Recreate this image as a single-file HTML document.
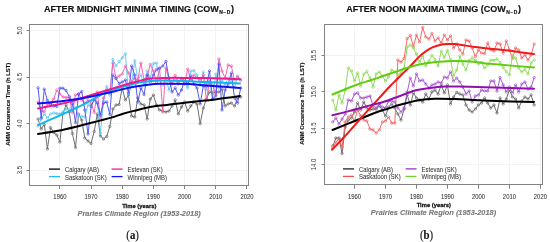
<!DOCTYPE html>
<html><head><meta charset="utf-8"><style>
html,body{margin:0;padding:0;background:#fff;}
svg{display:block;will-change:transform;}
</style></head><body>
<svg width="550" height="242" viewBox="0 0 550 242">
<rect width="550" height="242" fill="#fff"/>
<line x1="59.5" y1="24.5" x2="59.5" y2="185.5" stroke="#f2f2f2" stroke-width="1"/>
<line x1="91.5" y1="24.5" x2="91.5" y2="185.5" stroke="#f2f2f2" stroke-width="1"/>
<line x1="122.5" y1="24.5" x2="122.5" y2="185.5" stroke="#f2f2f2" stroke-width="1"/>
<line x1="153.5" y1="24.5" x2="153.5" y2="185.5" stroke="#f2f2f2" stroke-width="1"/>
<line x1="184.5" y1="24.5" x2="184.5" y2="185.5" stroke="#f2f2f2" stroke-width="1"/>
<line x1="215.5" y1="24.5" x2="215.5" y2="185.5" stroke="#f2f2f2" stroke-width="1"/>
<line x1="246.5" y1="24.5" x2="246.5" y2="185.5" stroke="#f2f2f2" stroke-width="1"/>
<line x1="29.5" y1="30.5" x2="248.5" y2="30.5" stroke="#f2f2f2" stroke-width="1"/>
<line x1="29.5" y1="77.5" x2="248.5" y2="77.5" stroke="#f2f2f2" stroke-width="1"/>
<line x1="29.5" y1="123.5" x2="248.5" y2="123.5" stroke="#f2f2f2" stroke-width="1"/>
<line x1="29.5" y1="170.5" x2="248.5" y2="170.5" stroke="#f2f2f2" stroke-width="1"/>
<polyline points="38.1,119.0 41.2,129.0 44.3,124.5 47.4,149.0 50.5,127.5 53.7,132.5 56.8,135.0 59.9,142.0 63.0,113.0 66.1,105.0 69.3,112.0 72.4,133.5 75.5,147.5 78.6,114.0 81.7,120.0 84.8,138.0 88.0,141.0 91.1,143.5 94.2,131.5 97.3,114.0 100.4,136.0 103.5,139.0 106.7,136.5 109.8,126.5 112.9,109.0 116.0,105.0 119.1,104.5 122.2,88.0 125.4,100.0 128.5,95.0 131.6,116.0 134.7,117.0 137.8,98.0 140.9,104.0 144.1,105.0 147.2,119.0 150.3,99.0 153.4,95.0 156.5,105.0 159.6,110.0 162.8,111.0 165.9,112.0 169.0,111.0 172.1,106.0 175.2,100.0 178.3,114.0 181.5,107.0 184.6,102.0 187.7,111.0 190.8,106.0 193.9,102.0 197.0,104.0 200.2,123.6 203.3,108.0 206.4,99.0 209.5,92.0 212.6,93.0 215.8,92.0 218.9,92.0 222.0,89.0 225.1,106.0 228.2,104.0 231.3,103.0 234.5,106.0 237.6,98.0 240.7,97.0" fill="none" stroke="#686868" stroke-width="0.95" stroke-opacity="1.0" stroke-linejoin="round"/><circle cx="38.1" cy="119.0" r="1.2" fill="none" stroke="#686868" stroke-width="0.7" stroke-opacity="1.0"/><circle cx="41.2" cy="129.0" r="1.2" fill="none" stroke="#686868" stroke-width="0.7" stroke-opacity="1.0"/><circle cx="44.3" cy="124.5" r="1.2" fill="none" stroke="#686868" stroke-width="0.7" stroke-opacity="1.0"/><circle cx="47.4" cy="149.0" r="1.2" fill="none" stroke="#686868" stroke-width="0.7" stroke-opacity="1.0"/><circle cx="50.5" cy="127.5" r="1.2" fill="none" stroke="#686868" stroke-width="0.7" stroke-opacity="1.0"/><circle cx="53.7" cy="132.5" r="1.2" fill="none" stroke="#686868" stroke-width="0.7" stroke-opacity="1.0"/><circle cx="56.8" cy="135.0" r="1.2" fill="none" stroke="#686868" stroke-width="0.7" stroke-opacity="1.0"/><circle cx="59.9" cy="142.0" r="1.2" fill="none" stroke="#686868" stroke-width="0.7" stroke-opacity="1.0"/><circle cx="63.0" cy="113.0" r="1.2" fill="none" stroke="#686868" stroke-width="0.7" stroke-opacity="1.0"/><circle cx="66.1" cy="105.0" r="1.2" fill="none" stroke="#686868" stroke-width="0.7" stroke-opacity="1.0"/><circle cx="69.3" cy="112.0" r="1.2" fill="none" stroke="#686868" stroke-width="0.7" stroke-opacity="1.0"/><circle cx="72.4" cy="133.5" r="1.2" fill="none" stroke="#686868" stroke-width="0.7" stroke-opacity="1.0"/><circle cx="75.5" cy="147.5" r="1.2" fill="none" stroke="#686868" stroke-width="0.7" stroke-opacity="1.0"/><circle cx="78.6" cy="114.0" r="1.2" fill="none" stroke="#686868" stroke-width="0.7" stroke-opacity="1.0"/><circle cx="81.7" cy="120.0" r="1.2" fill="none" stroke="#686868" stroke-width="0.7" stroke-opacity="1.0"/><circle cx="84.8" cy="138.0" r="1.2" fill="none" stroke="#686868" stroke-width="0.7" stroke-opacity="1.0"/><circle cx="88.0" cy="141.0" r="1.2" fill="none" stroke="#686868" stroke-width="0.7" stroke-opacity="1.0"/><circle cx="91.1" cy="143.5" r="1.2" fill="none" stroke="#686868" stroke-width="0.7" stroke-opacity="1.0"/><circle cx="94.2" cy="131.5" r="1.2" fill="none" stroke="#686868" stroke-width="0.7" stroke-opacity="1.0"/><circle cx="97.3" cy="114.0" r="1.2" fill="none" stroke="#686868" stroke-width="0.7" stroke-opacity="1.0"/><circle cx="100.4" cy="136.0" r="1.2" fill="none" stroke="#686868" stroke-width="0.7" stroke-opacity="1.0"/><circle cx="103.5" cy="139.0" r="1.2" fill="none" stroke="#686868" stroke-width="0.7" stroke-opacity="1.0"/><circle cx="106.7" cy="136.5" r="1.2" fill="none" stroke="#686868" stroke-width="0.7" stroke-opacity="1.0"/><circle cx="109.8" cy="126.5" r="1.2" fill="none" stroke="#686868" stroke-width="0.7" stroke-opacity="1.0"/><circle cx="112.9" cy="109.0" r="1.2" fill="none" stroke="#686868" stroke-width="0.7" stroke-opacity="1.0"/><circle cx="116.0" cy="105.0" r="1.2" fill="none" stroke="#686868" stroke-width="0.7" stroke-opacity="1.0"/><circle cx="119.1" cy="104.5" r="1.2" fill="none" stroke="#686868" stroke-width="0.7" stroke-opacity="1.0"/><circle cx="122.2" cy="88.0" r="1.2" fill="none" stroke="#686868" stroke-width="0.7" stroke-opacity="1.0"/><circle cx="125.4" cy="100.0" r="1.2" fill="none" stroke="#686868" stroke-width="0.7" stroke-opacity="1.0"/><circle cx="128.5" cy="95.0" r="1.2" fill="none" stroke="#686868" stroke-width="0.7" stroke-opacity="1.0"/><circle cx="131.6" cy="116.0" r="1.2" fill="none" stroke="#686868" stroke-width="0.7" stroke-opacity="1.0"/><circle cx="134.7" cy="117.0" r="1.2" fill="none" stroke="#686868" stroke-width="0.7" stroke-opacity="1.0"/><circle cx="137.8" cy="98.0" r="1.2" fill="none" stroke="#686868" stroke-width="0.7" stroke-opacity="1.0"/><circle cx="140.9" cy="104.0" r="1.2" fill="none" stroke="#686868" stroke-width="0.7" stroke-opacity="1.0"/><circle cx="144.1" cy="105.0" r="1.2" fill="none" stroke="#686868" stroke-width="0.7" stroke-opacity="1.0"/><circle cx="147.2" cy="119.0" r="1.2" fill="none" stroke="#686868" stroke-width="0.7" stroke-opacity="1.0"/><circle cx="150.3" cy="99.0" r="1.2" fill="none" stroke="#686868" stroke-width="0.7" stroke-opacity="1.0"/><circle cx="153.4" cy="95.0" r="1.2" fill="none" stroke="#686868" stroke-width="0.7" stroke-opacity="1.0"/><circle cx="156.5" cy="105.0" r="1.2" fill="none" stroke="#686868" stroke-width="0.7" stroke-opacity="1.0"/><circle cx="159.6" cy="110.0" r="1.2" fill="none" stroke="#686868" stroke-width="0.7" stroke-opacity="1.0"/><circle cx="162.8" cy="111.0" r="1.2" fill="none" stroke="#686868" stroke-width="0.7" stroke-opacity="1.0"/><circle cx="165.9" cy="112.0" r="1.2" fill="none" stroke="#686868" stroke-width="0.7" stroke-opacity="1.0"/><circle cx="169.0" cy="111.0" r="1.2" fill="none" stroke="#686868" stroke-width="0.7" stroke-opacity="1.0"/><circle cx="172.1" cy="106.0" r="1.2" fill="none" stroke="#686868" stroke-width="0.7" stroke-opacity="1.0"/><circle cx="175.2" cy="100.0" r="1.2" fill="none" stroke="#686868" stroke-width="0.7" stroke-opacity="1.0"/><circle cx="178.3" cy="114.0" r="1.2" fill="none" stroke="#686868" stroke-width="0.7" stroke-opacity="1.0"/><circle cx="181.5" cy="107.0" r="1.2" fill="none" stroke="#686868" stroke-width="0.7" stroke-opacity="1.0"/><circle cx="184.6" cy="102.0" r="1.2" fill="none" stroke="#686868" stroke-width="0.7" stroke-opacity="1.0"/><circle cx="187.7" cy="111.0" r="1.2" fill="none" stroke="#686868" stroke-width="0.7" stroke-opacity="1.0"/><circle cx="190.8" cy="106.0" r="1.2" fill="none" stroke="#686868" stroke-width="0.7" stroke-opacity="1.0"/><circle cx="193.9" cy="102.0" r="1.2" fill="none" stroke="#686868" stroke-width="0.7" stroke-opacity="1.0"/><circle cx="197.0" cy="104.0" r="1.2" fill="none" stroke="#686868" stroke-width="0.7" stroke-opacity="1.0"/><circle cx="200.2" cy="123.6" r="1.2" fill="none" stroke="#686868" stroke-width="0.7" stroke-opacity="1.0"/><circle cx="203.3" cy="108.0" r="1.2" fill="none" stroke="#686868" stroke-width="0.7" stroke-opacity="1.0"/><circle cx="206.4" cy="99.0" r="1.2" fill="none" stroke="#686868" stroke-width="0.7" stroke-opacity="1.0"/><circle cx="209.5" cy="92.0" r="1.2" fill="none" stroke="#686868" stroke-width="0.7" stroke-opacity="1.0"/><circle cx="212.6" cy="93.0" r="1.2" fill="none" stroke="#686868" stroke-width="0.7" stroke-opacity="1.0"/><circle cx="215.8" cy="92.0" r="1.2" fill="none" stroke="#686868" stroke-width="0.7" stroke-opacity="1.0"/><circle cx="218.9" cy="92.0" r="1.2" fill="none" stroke="#686868" stroke-width="0.7" stroke-opacity="1.0"/><circle cx="222.0" cy="89.0" r="1.2" fill="none" stroke="#686868" stroke-width="0.7" stroke-opacity="1.0"/><circle cx="225.1" cy="106.0" r="1.2" fill="none" stroke="#686868" stroke-width="0.7" stroke-opacity="1.0"/><circle cx="228.2" cy="104.0" r="1.2" fill="none" stroke="#686868" stroke-width="0.7" stroke-opacity="1.0"/><circle cx="231.3" cy="103.0" r="1.2" fill="none" stroke="#686868" stroke-width="0.7" stroke-opacity="1.0"/><circle cx="234.5" cy="106.0" r="1.2" fill="none" stroke="#686868" stroke-width="0.7" stroke-opacity="1.0"/><circle cx="237.6" cy="98.0" r="1.2" fill="none" stroke="#686868" stroke-width="0.7" stroke-opacity="1.0"/><circle cx="240.7" cy="97.0" r="1.2" fill="none" stroke="#686868" stroke-width="0.7" stroke-opacity="1.0"/>
<polyline points="38.1,126.0 41.2,119.0 44.3,114.0 47.4,118.0 50.5,114.0 53.7,113.0 56.8,113.5 59.9,114.0 63.0,112.0 66.1,109.0 69.3,110.0 72.4,105.0 75.5,108.0 78.6,116.0 81.7,116.5 84.8,117.0 88.0,105.0 91.1,105.0 94.2,100.0 97.3,103.0 100.4,133.0 103.5,101.0 106.7,86.5 109.8,95.0 112.9,59.4 116.0,66.0 119.1,61.6 122.2,58.0 125.4,53.6 128.5,95.0 131.6,85.0 134.7,60.6 137.8,80.0 140.9,75.0 144.1,85.0 147.2,71.0 150.3,78.0 153.4,63.5 156.5,63.0 159.6,80.0 162.8,85.0 165.9,78.0 169.0,90.0 172.1,82.0 175.2,80.0 178.3,84.0 181.5,78.0 184.6,83.0 187.7,88.0 190.8,71.0 193.9,70.5 197.0,75.0 200.2,85.0 203.3,72.0 206.4,90.0 209.5,80.0 212.6,99.0 215.8,74.0 218.9,88.0 222.0,80.0 225.1,85.0 228.2,78.0 231.3,82.0 234.5,88.0 237.6,76.0 240.7,80.0" fill="none" stroke="#5ccaf3" stroke-width="0.95" stroke-opacity="1.0" stroke-linejoin="round"/><circle cx="38.1" cy="126.0" r="1.2" fill="none" stroke="#5ccaf3" stroke-width="0.7" stroke-opacity="1.0"/><circle cx="41.2" cy="119.0" r="1.2" fill="none" stroke="#5ccaf3" stroke-width="0.7" stroke-opacity="1.0"/><circle cx="44.3" cy="114.0" r="1.2" fill="none" stroke="#5ccaf3" stroke-width="0.7" stroke-opacity="1.0"/><circle cx="47.4" cy="118.0" r="1.2" fill="none" stroke="#5ccaf3" stroke-width="0.7" stroke-opacity="1.0"/><circle cx="50.5" cy="114.0" r="1.2" fill="none" stroke="#5ccaf3" stroke-width="0.7" stroke-opacity="1.0"/><circle cx="53.7" cy="113.0" r="1.2" fill="none" stroke="#5ccaf3" stroke-width="0.7" stroke-opacity="1.0"/><circle cx="56.8" cy="113.5" r="1.2" fill="none" stroke="#5ccaf3" stroke-width="0.7" stroke-opacity="1.0"/><circle cx="59.9" cy="114.0" r="1.2" fill="none" stroke="#5ccaf3" stroke-width="0.7" stroke-opacity="1.0"/><circle cx="63.0" cy="112.0" r="1.2" fill="none" stroke="#5ccaf3" stroke-width="0.7" stroke-opacity="1.0"/><circle cx="66.1" cy="109.0" r="1.2" fill="none" stroke="#5ccaf3" stroke-width="0.7" stroke-opacity="1.0"/><circle cx="69.3" cy="110.0" r="1.2" fill="none" stroke="#5ccaf3" stroke-width="0.7" stroke-opacity="1.0"/><circle cx="72.4" cy="105.0" r="1.2" fill="none" stroke="#5ccaf3" stroke-width="0.7" stroke-opacity="1.0"/><circle cx="75.5" cy="108.0" r="1.2" fill="none" stroke="#5ccaf3" stroke-width="0.7" stroke-opacity="1.0"/><circle cx="78.6" cy="116.0" r="1.2" fill="none" stroke="#5ccaf3" stroke-width="0.7" stroke-opacity="1.0"/><circle cx="81.7" cy="116.5" r="1.2" fill="none" stroke="#5ccaf3" stroke-width="0.7" stroke-opacity="1.0"/><circle cx="84.8" cy="117.0" r="1.2" fill="none" stroke="#5ccaf3" stroke-width="0.7" stroke-opacity="1.0"/><circle cx="88.0" cy="105.0" r="1.2" fill="none" stroke="#5ccaf3" stroke-width="0.7" stroke-opacity="1.0"/><circle cx="91.1" cy="105.0" r="1.2" fill="none" stroke="#5ccaf3" stroke-width="0.7" stroke-opacity="1.0"/><circle cx="94.2" cy="100.0" r="1.2" fill="none" stroke="#5ccaf3" stroke-width="0.7" stroke-opacity="1.0"/><circle cx="97.3" cy="103.0" r="1.2" fill="none" stroke="#5ccaf3" stroke-width="0.7" stroke-opacity="1.0"/><circle cx="100.4" cy="133.0" r="1.2" fill="none" stroke="#5ccaf3" stroke-width="0.7" stroke-opacity="1.0"/><circle cx="103.5" cy="101.0" r="1.2" fill="none" stroke="#5ccaf3" stroke-width="0.7" stroke-opacity="1.0"/><circle cx="106.7" cy="86.5" r="1.2" fill="none" stroke="#5ccaf3" stroke-width="0.7" stroke-opacity="1.0"/><circle cx="109.8" cy="95.0" r="1.2" fill="none" stroke="#5ccaf3" stroke-width="0.7" stroke-opacity="1.0"/><circle cx="112.9" cy="59.4" r="1.2" fill="none" stroke="#5ccaf3" stroke-width="0.7" stroke-opacity="1.0"/><circle cx="116.0" cy="66.0" r="1.2" fill="none" stroke="#5ccaf3" stroke-width="0.7" stroke-opacity="1.0"/><circle cx="119.1" cy="61.6" r="1.2" fill="none" stroke="#5ccaf3" stroke-width="0.7" stroke-opacity="1.0"/><circle cx="122.2" cy="58.0" r="1.2" fill="none" stroke="#5ccaf3" stroke-width="0.7" stroke-opacity="1.0"/><circle cx="125.4" cy="53.6" r="1.2" fill="none" stroke="#5ccaf3" stroke-width="0.7" stroke-opacity="1.0"/><circle cx="128.5" cy="95.0" r="1.2" fill="none" stroke="#5ccaf3" stroke-width="0.7" stroke-opacity="1.0"/><circle cx="131.6" cy="85.0" r="1.2" fill="none" stroke="#5ccaf3" stroke-width="0.7" stroke-opacity="1.0"/><circle cx="134.7" cy="60.6" r="1.2" fill="none" stroke="#5ccaf3" stroke-width="0.7" stroke-opacity="1.0"/><circle cx="137.8" cy="80.0" r="1.2" fill="none" stroke="#5ccaf3" stroke-width="0.7" stroke-opacity="1.0"/><circle cx="140.9" cy="75.0" r="1.2" fill="none" stroke="#5ccaf3" stroke-width="0.7" stroke-opacity="1.0"/><circle cx="144.1" cy="85.0" r="1.2" fill="none" stroke="#5ccaf3" stroke-width="0.7" stroke-opacity="1.0"/><circle cx="147.2" cy="71.0" r="1.2" fill="none" stroke="#5ccaf3" stroke-width="0.7" stroke-opacity="1.0"/><circle cx="150.3" cy="78.0" r="1.2" fill="none" stroke="#5ccaf3" stroke-width="0.7" stroke-opacity="1.0"/><circle cx="153.4" cy="63.5" r="1.2" fill="none" stroke="#5ccaf3" stroke-width="0.7" stroke-opacity="1.0"/><circle cx="156.5" cy="63.0" r="1.2" fill="none" stroke="#5ccaf3" stroke-width="0.7" stroke-opacity="1.0"/><circle cx="159.6" cy="80.0" r="1.2" fill="none" stroke="#5ccaf3" stroke-width="0.7" stroke-opacity="1.0"/><circle cx="162.8" cy="85.0" r="1.2" fill="none" stroke="#5ccaf3" stroke-width="0.7" stroke-opacity="1.0"/><circle cx="165.9" cy="78.0" r="1.2" fill="none" stroke="#5ccaf3" stroke-width="0.7" stroke-opacity="1.0"/><circle cx="169.0" cy="90.0" r="1.2" fill="none" stroke="#5ccaf3" stroke-width="0.7" stroke-opacity="1.0"/><circle cx="172.1" cy="82.0" r="1.2" fill="none" stroke="#5ccaf3" stroke-width="0.7" stroke-opacity="1.0"/><circle cx="175.2" cy="80.0" r="1.2" fill="none" stroke="#5ccaf3" stroke-width="0.7" stroke-opacity="1.0"/><circle cx="178.3" cy="84.0" r="1.2" fill="none" stroke="#5ccaf3" stroke-width="0.7" stroke-opacity="1.0"/><circle cx="181.5" cy="78.0" r="1.2" fill="none" stroke="#5ccaf3" stroke-width="0.7" stroke-opacity="1.0"/><circle cx="184.6" cy="83.0" r="1.2" fill="none" stroke="#5ccaf3" stroke-width="0.7" stroke-opacity="1.0"/><circle cx="187.7" cy="88.0" r="1.2" fill="none" stroke="#5ccaf3" stroke-width="0.7" stroke-opacity="1.0"/><circle cx="190.8" cy="71.0" r="1.2" fill="none" stroke="#5ccaf3" stroke-width="0.7" stroke-opacity="1.0"/><circle cx="193.9" cy="70.5" r="1.2" fill="none" stroke="#5ccaf3" stroke-width="0.7" stroke-opacity="1.0"/><circle cx="197.0" cy="75.0" r="1.2" fill="none" stroke="#5ccaf3" stroke-width="0.7" stroke-opacity="1.0"/><circle cx="200.2" cy="85.0" r="1.2" fill="none" stroke="#5ccaf3" stroke-width="0.7" stroke-opacity="1.0"/><circle cx="203.3" cy="72.0" r="1.2" fill="none" stroke="#5ccaf3" stroke-width="0.7" stroke-opacity="1.0"/><circle cx="206.4" cy="90.0" r="1.2" fill="none" stroke="#5ccaf3" stroke-width="0.7" stroke-opacity="1.0"/><circle cx="209.5" cy="80.0" r="1.2" fill="none" stroke="#5ccaf3" stroke-width="0.7" stroke-opacity="1.0"/><circle cx="212.6" cy="99.0" r="1.2" fill="none" stroke="#5ccaf3" stroke-width="0.7" stroke-opacity="1.0"/><circle cx="215.8" cy="74.0" r="1.2" fill="none" stroke="#5ccaf3" stroke-width="0.7" stroke-opacity="1.0"/><circle cx="218.9" cy="88.0" r="1.2" fill="none" stroke="#5ccaf3" stroke-width="0.7" stroke-opacity="1.0"/><circle cx="222.0" cy="80.0" r="1.2" fill="none" stroke="#5ccaf3" stroke-width="0.7" stroke-opacity="1.0"/><circle cx="225.1" cy="85.0" r="1.2" fill="none" stroke="#5ccaf3" stroke-width="0.7" stroke-opacity="1.0"/><circle cx="228.2" cy="78.0" r="1.2" fill="none" stroke="#5ccaf3" stroke-width="0.7" stroke-opacity="1.0"/><circle cx="231.3" cy="82.0" r="1.2" fill="none" stroke="#5ccaf3" stroke-width="0.7" stroke-opacity="1.0"/><circle cx="234.5" cy="88.0" r="1.2" fill="none" stroke="#5ccaf3" stroke-width="0.7" stroke-opacity="1.0"/><circle cx="237.6" cy="76.0" r="1.2" fill="none" stroke="#5ccaf3" stroke-width="0.7" stroke-opacity="1.0"/><circle cx="240.7" cy="80.0" r="1.2" fill="none" stroke="#5ccaf3" stroke-width="0.7" stroke-opacity="1.0"/>
<polyline points="38.1,102.0 41.2,111.0 44.3,111.5 47.4,104.0 50.5,103.0 53.7,99.0 56.8,90.0 59.9,94.0 63.0,97.0 66.1,97.5 69.3,98.0 72.4,112.5 75.5,95.0 78.6,94.0 81.7,100.0 84.8,103.0 88.0,100.0 91.1,103.0 94.2,112.5 97.3,92.0 100.4,117.5 103.5,98.0 106.7,90.0 109.8,93.0 112.9,63.0 116.0,78.0 119.1,76.0 122.2,74.0 125.4,66.0 128.5,73.0 131.6,82.0 134.7,78.0 137.8,80.0 140.9,63.0 144.1,80.0 147.2,76.0 150.3,64.5 153.4,71.0 156.5,82.0 159.6,69.0 162.8,112.0 165.9,68.0 169.0,80.0 172.1,84.0 175.2,75.5 178.3,82.0 181.5,79.0 184.6,84.0 187.7,69.0 190.8,80.0 193.9,75.0 197.0,78.0 200.2,80.0 203.3,75.0 206.4,100.0 209.5,82.0 212.6,85.0 215.8,94.0 218.9,59.0 222.0,71.0 225.1,78.0 228.2,65.0 231.3,66.0 234.5,80.0 237.6,77.0 240.7,80.0" fill="none" stroke="#f55cb2" stroke-width="0.95" stroke-opacity="1.0" stroke-linejoin="round"/><circle cx="38.1" cy="102.0" r="1.2" fill="none" stroke="#f55cb2" stroke-width="0.7" stroke-opacity="1.0"/><circle cx="41.2" cy="111.0" r="1.2" fill="none" stroke="#f55cb2" stroke-width="0.7" stroke-opacity="1.0"/><circle cx="44.3" cy="111.5" r="1.2" fill="none" stroke="#f55cb2" stroke-width="0.7" stroke-opacity="1.0"/><circle cx="47.4" cy="104.0" r="1.2" fill="none" stroke="#f55cb2" stroke-width="0.7" stroke-opacity="1.0"/><circle cx="50.5" cy="103.0" r="1.2" fill="none" stroke="#f55cb2" stroke-width="0.7" stroke-opacity="1.0"/><circle cx="53.7" cy="99.0" r="1.2" fill="none" stroke="#f55cb2" stroke-width="0.7" stroke-opacity="1.0"/><circle cx="56.8" cy="90.0" r="1.2" fill="none" stroke="#f55cb2" stroke-width="0.7" stroke-opacity="1.0"/><circle cx="59.9" cy="94.0" r="1.2" fill="none" stroke="#f55cb2" stroke-width="0.7" stroke-opacity="1.0"/><circle cx="63.0" cy="97.0" r="1.2" fill="none" stroke="#f55cb2" stroke-width="0.7" stroke-opacity="1.0"/><circle cx="66.1" cy="97.5" r="1.2" fill="none" stroke="#f55cb2" stroke-width="0.7" stroke-opacity="1.0"/><circle cx="69.3" cy="98.0" r="1.2" fill="none" stroke="#f55cb2" stroke-width="0.7" stroke-opacity="1.0"/><circle cx="72.4" cy="112.5" r="1.2" fill="none" stroke="#f55cb2" stroke-width="0.7" stroke-opacity="1.0"/><circle cx="75.5" cy="95.0" r="1.2" fill="none" stroke="#f55cb2" stroke-width="0.7" stroke-opacity="1.0"/><circle cx="78.6" cy="94.0" r="1.2" fill="none" stroke="#f55cb2" stroke-width="0.7" stroke-opacity="1.0"/><circle cx="81.7" cy="100.0" r="1.2" fill="none" stroke="#f55cb2" stroke-width="0.7" stroke-opacity="1.0"/><circle cx="84.8" cy="103.0" r="1.2" fill="none" stroke="#f55cb2" stroke-width="0.7" stroke-opacity="1.0"/><circle cx="88.0" cy="100.0" r="1.2" fill="none" stroke="#f55cb2" stroke-width="0.7" stroke-opacity="1.0"/><circle cx="91.1" cy="103.0" r="1.2" fill="none" stroke="#f55cb2" stroke-width="0.7" stroke-opacity="1.0"/><circle cx="94.2" cy="112.5" r="1.2" fill="none" stroke="#f55cb2" stroke-width="0.7" stroke-opacity="1.0"/><circle cx="97.3" cy="92.0" r="1.2" fill="none" stroke="#f55cb2" stroke-width="0.7" stroke-opacity="1.0"/><circle cx="100.4" cy="117.5" r="1.2" fill="none" stroke="#f55cb2" stroke-width="0.7" stroke-opacity="1.0"/><circle cx="103.5" cy="98.0" r="1.2" fill="none" stroke="#f55cb2" stroke-width="0.7" stroke-opacity="1.0"/><circle cx="106.7" cy="90.0" r="1.2" fill="none" stroke="#f55cb2" stroke-width="0.7" stroke-opacity="1.0"/><circle cx="109.8" cy="93.0" r="1.2" fill="none" stroke="#f55cb2" stroke-width="0.7" stroke-opacity="1.0"/><circle cx="112.9" cy="63.0" r="1.2" fill="none" stroke="#f55cb2" stroke-width="0.7" stroke-opacity="1.0"/><circle cx="116.0" cy="78.0" r="1.2" fill="none" stroke="#f55cb2" stroke-width="0.7" stroke-opacity="1.0"/><circle cx="119.1" cy="76.0" r="1.2" fill="none" stroke="#f55cb2" stroke-width="0.7" stroke-opacity="1.0"/><circle cx="122.2" cy="74.0" r="1.2" fill="none" stroke="#f55cb2" stroke-width="0.7" stroke-opacity="1.0"/><circle cx="125.4" cy="66.0" r="1.2" fill="none" stroke="#f55cb2" stroke-width="0.7" stroke-opacity="1.0"/><circle cx="128.5" cy="73.0" r="1.2" fill="none" stroke="#f55cb2" stroke-width="0.7" stroke-opacity="1.0"/><circle cx="131.6" cy="82.0" r="1.2" fill="none" stroke="#f55cb2" stroke-width="0.7" stroke-opacity="1.0"/><circle cx="134.7" cy="78.0" r="1.2" fill="none" stroke="#f55cb2" stroke-width="0.7" stroke-opacity="1.0"/><circle cx="137.8" cy="80.0" r="1.2" fill="none" stroke="#f55cb2" stroke-width="0.7" stroke-opacity="1.0"/><circle cx="140.9" cy="63.0" r="1.2" fill="none" stroke="#f55cb2" stroke-width="0.7" stroke-opacity="1.0"/><circle cx="144.1" cy="80.0" r="1.2" fill="none" stroke="#f55cb2" stroke-width="0.7" stroke-opacity="1.0"/><circle cx="147.2" cy="76.0" r="1.2" fill="none" stroke="#f55cb2" stroke-width="0.7" stroke-opacity="1.0"/><circle cx="150.3" cy="64.5" r="1.2" fill="none" stroke="#f55cb2" stroke-width="0.7" stroke-opacity="1.0"/><circle cx="153.4" cy="71.0" r="1.2" fill="none" stroke="#f55cb2" stroke-width="0.7" stroke-opacity="1.0"/><circle cx="156.5" cy="82.0" r="1.2" fill="none" stroke="#f55cb2" stroke-width="0.7" stroke-opacity="1.0"/><circle cx="159.6" cy="69.0" r="1.2" fill="none" stroke="#f55cb2" stroke-width="0.7" stroke-opacity="1.0"/><circle cx="162.8" cy="112.0" r="1.2" fill="none" stroke="#f55cb2" stroke-width="0.7" stroke-opacity="1.0"/><circle cx="165.9" cy="68.0" r="1.2" fill="none" stroke="#f55cb2" stroke-width="0.7" stroke-opacity="1.0"/><circle cx="169.0" cy="80.0" r="1.2" fill="none" stroke="#f55cb2" stroke-width="0.7" stroke-opacity="1.0"/><circle cx="172.1" cy="84.0" r="1.2" fill="none" stroke="#f55cb2" stroke-width="0.7" stroke-opacity="1.0"/><circle cx="175.2" cy="75.5" r="1.2" fill="none" stroke="#f55cb2" stroke-width="0.7" stroke-opacity="1.0"/><circle cx="178.3" cy="82.0" r="1.2" fill="none" stroke="#f55cb2" stroke-width="0.7" stroke-opacity="1.0"/><circle cx="181.5" cy="79.0" r="1.2" fill="none" stroke="#f55cb2" stroke-width="0.7" stroke-opacity="1.0"/><circle cx="184.6" cy="84.0" r="1.2" fill="none" stroke="#f55cb2" stroke-width="0.7" stroke-opacity="1.0"/><circle cx="187.7" cy="69.0" r="1.2" fill="none" stroke="#f55cb2" stroke-width="0.7" stroke-opacity="1.0"/><circle cx="190.8" cy="80.0" r="1.2" fill="none" stroke="#f55cb2" stroke-width="0.7" stroke-opacity="1.0"/><circle cx="193.9" cy="75.0" r="1.2" fill="none" stroke="#f55cb2" stroke-width="0.7" stroke-opacity="1.0"/><circle cx="197.0" cy="78.0" r="1.2" fill="none" stroke="#f55cb2" stroke-width="0.7" stroke-opacity="1.0"/><circle cx="200.2" cy="80.0" r="1.2" fill="none" stroke="#f55cb2" stroke-width="0.7" stroke-opacity="1.0"/><circle cx="203.3" cy="75.0" r="1.2" fill="none" stroke="#f55cb2" stroke-width="0.7" stroke-opacity="1.0"/><circle cx="206.4" cy="100.0" r="1.2" fill="none" stroke="#f55cb2" stroke-width="0.7" stroke-opacity="1.0"/><circle cx="209.5" cy="82.0" r="1.2" fill="none" stroke="#f55cb2" stroke-width="0.7" stroke-opacity="1.0"/><circle cx="212.6" cy="85.0" r="1.2" fill="none" stroke="#f55cb2" stroke-width="0.7" stroke-opacity="1.0"/><circle cx="215.8" cy="94.0" r="1.2" fill="none" stroke="#f55cb2" stroke-width="0.7" stroke-opacity="1.0"/><circle cx="218.9" cy="59.0" r="1.2" fill="none" stroke="#f55cb2" stroke-width="0.7" stroke-opacity="1.0"/><circle cx="222.0" cy="71.0" r="1.2" fill="none" stroke="#f55cb2" stroke-width="0.7" stroke-opacity="1.0"/><circle cx="225.1" cy="78.0" r="1.2" fill="none" stroke="#f55cb2" stroke-width="0.7" stroke-opacity="1.0"/><circle cx="228.2" cy="65.0" r="1.2" fill="none" stroke="#f55cb2" stroke-width="0.7" stroke-opacity="1.0"/><circle cx="231.3" cy="66.0" r="1.2" fill="none" stroke="#f55cb2" stroke-width="0.7" stroke-opacity="1.0"/><circle cx="234.5" cy="80.0" r="1.2" fill="none" stroke="#f55cb2" stroke-width="0.7" stroke-opacity="1.0"/><circle cx="237.6" cy="77.0" r="1.2" fill="none" stroke="#f55cb2" stroke-width="0.7" stroke-opacity="1.0"/><circle cx="240.7" cy="80.0" r="1.2" fill="none" stroke="#f55cb2" stroke-width="0.7" stroke-opacity="1.0"/>
<polyline points="38.1,87.8 41.2,118.0 44.3,89.2 47.4,100.5 50.5,104.0 53.7,106.0 56.8,106.5 59.9,88.2 63.0,88.2 66.1,90.5 69.3,96.5 72.4,103.5 75.5,122.5 78.6,94.0 81.7,91.5 84.8,110.0 88.0,134.0 91.1,106.5 94.2,99.5 97.3,103.0 100.4,115.0 103.5,103.0 106.7,102.0 109.8,114.5 112.9,75.0 116.0,78.5 119.1,83.5 122.2,82.0 125.4,80.0 128.5,93.0 131.6,66.0 134.7,75.0 137.8,102.0 140.9,88.0 144.1,94.5 147.2,75.0 150.3,82.0 153.4,75.0 156.5,69.5 159.6,68.0 162.8,66.0 165.9,61.5 169.0,78.0 172.1,92.0 175.2,88.0 178.3,95.0 181.5,90.0 184.6,80.0 187.7,84.0 190.8,76.0 193.9,84.0 197.0,88.0 200.2,104.0 203.3,86.0 206.4,86.0 209.5,71.0 212.6,99.0 215.8,96.0 218.9,64.0 222.0,110.0 225.1,90.0 228.2,84.0 231.3,73.0 234.5,98.0 237.6,103.0 240.7,88.0" fill="none" stroke="#5050ee" stroke-width="0.95" stroke-opacity="1.0" stroke-linejoin="round"/><circle cx="38.1" cy="87.8" r="1.2" fill="none" stroke="#5050ee" stroke-width="0.7" stroke-opacity="1.0"/><circle cx="41.2" cy="118.0" r="1.2" fill="none" stroke="#5050ee" stroke-width="0.7" stroke-opacity="1.0"/><circle cx="44.3" cy="89.2" r="1.2" fill="none" stroke="#5050ee" stroke-width="0.7" stroke-opacity="1.0"/><circle cx="47.4" cy="100.5" r="1.2" fill="none" stroke="#5050ee" stroke-width="0.7" stroke-opacity="1.0"/><circle cx="50.5" cy="104.0" r="1.2" fill="none" stroke="#5050ee" stroke-width="0.7" stroke-opacity="1.0"/><circle cx="53.7" cy="106.0" r="1.2" fill="none" stroke="#5050ee" stroke-width="0.7" stroke-opacity="1.0"/><circle cx="56.8" cy="106.5" r="1.2" fill="none" stroke="#5050ee" stroke-width="0.7" stroke-opacity="1.0"/><circle cx="59.9" cy="88.2" r="1.2" fill="none" stroke="#5050ee" stroke-width="0.7" stroke-opacity="1.0"/><circle cx="63.0" cy="88.2" r="1.2" fill="none" stroke="#5050ee" stroke-width="0.7" stroke-opacity="1.0"/><circle cx="66.1" cy="90.5" r="1.2" fill="none" stroke="#5050ee" stroke-width="0.7" stroke-opacity="1.0"/><circle cx="69.3" cy="96.5" r="1.2" fill="none" stroke="#5050ee" stroke-width="0.7" stroke-opacity="1.0"/><circle cx="72.4" cy="103.5" r="1.2" fill="none" stroke="#5050ee" stroke-width="0.7" stroke-opacity="1.0"/><circle cx="75.5" cy="122.5" r="1.2" fill="none" stroke="#5050ee" stroke-width="0.7" stroke-opacity="1.0"/><circle cx="78.6" cy="94.0" r="1.2" fill="none" stroke="#5050ee" stroke-width="0.7" stroke-opacity="1.0"/><circle cx="81.7" cy="91.5" r="1.2" fill="none" stroke="#5050ee" stroke-width="0.7" stroke-opacity="1.0"/><circle cx="84.8" cy="110.0" r="1.2" fill="none" stroke="#5050ee" stroke-width="0.7" stroke-opacity="1.0"/><circle cx="88.0" cy="134.0" r="1.2" fill="none" stroke="#5050ee" stroke-width="0.7" stroke-opacity="1.0"/><circle cx="91.1" cy="106.5" r="1.2" fill="none" stroke="#5050ee" stroke-width="0.7" stroke-opacity="1.0"/><circle cx="94.2" cy="99.5" r="1.2" fill="none" stroke="#5050ee" stroke-width="0.7" stroke-opacity="1.0"/><circle cx="97.3" cy="103.0" r="1.2" fill="none" stroke="#5050ee" stroke-width="0.7" stroke-opacity="1.0"/><circle cx="100.4" cy="115.0" r="1.2" fill="none" stroke="#5050ee" stroke-width="0.7" stroke-opacity="1.0"/><circle cx="103.5" cy="103.0" r="1.2" fill="none" stroke="#5050ee" stroke-width="0.7" stroke-opacity="1.0"/><circle cx="106.7" cy="102.0" r="1.2" fill="none" stroke="#5050ee" stroke-width="0.7" stroke-opacity="1.0"/><circle cx="109.8" cy="114.5" r="1.2" fill="none" stroke="#5050ee" stroke-width="0.7" stroke-opacity="1.0"/><circle cx="112.9" cy="75.0" r="1.2" fill="none" stroke="#5050ee" stroke-width="0.7" stroke-opacity="1.0"/><circle cx="116.0" cy="78.5" r="1.2" fill="none" stroke="#5050ee" stroke-width="0.7" stroke-opacity="1.0"/><circle cx="119.1" cy="83.5" r="1.2" fill="none" stroke="#5050ee" stroke-width="0.7" stroke-opacity="1.0"/><circle cx="122.2" cy="82.0" r="1.2" fill="none" stroke="#5050ee" stroke-width="0.7" stroke-opacity="1.0"/><circle cx="125.4" cy="80.0" r="1.2" fill="none" stroke="#5050ee" stroke-width="0.7" stroke-opacity="1.0"/><circle cx="128.5" cy="93.0" r="1.2" fill="none" stroke="#5050ee" stroke-width="0.7" stroke-opacity="1.0"/><circle cx="131.6" cy="66.0" r="1.2" fill="none" stroke="#5050ee" stroke-width="0.7" stroke-opacity="1.0"/><circle cx="134.7" cy="75.0" r="1.2" fill="none" stroke="#5050ee" stroke-width="0.7" stroke-opacity="1.0"/><circle cx="137.8" cy="102.0" r="1.2" fill="none" stroke="#5050ee" stroke-width="0.7" stroke-opacity="1.0"/><circle cx="140.9" cy="88.0" r="1.2" fill="none" stroke="#5050ee" stroke-width="0.7" stroke-opacity="1.0"/><circle cx="144.1" cy="94.5" r="1.2" fill="none" stroke="#5050ee" stroke-width="0.7" stroke-opacity="1.0"/><circle cx="147.2" cy="75.0" r="1.2" fill="none" stroke="#5050ee" stroke-width="0.7" stroke-opacity="1.0"/><circle cx="150.3" cy="82.0" r="1.2" fill="none" stroke="#5050ee" stroke-width="0.7" stroke-opacity="1.0"/><circle cx="153.4" cy="75.0" r="1.2" fill="none" stroke="#5050ee" stroke-width="0.7" stroke-opacity="1.0"/><circle cx="156.5" cy="69.5" r="1.2" fill="none" stroke="#5050ee" stroke-width="0.7" stroke-opacity="1.0"/><circle cx="159.6" cy="68.0" r="1.2" fill="none" stroke="#5050ee" stroke-width="0.7" stroke-opacity="1.0"/><circle cx="162.8" cy="66.0" r="1.2" fill="none" stroke="#5050ee" stroke-width="0.7" stroke-opacity="1.0"/><circle cx="165.9" cy="61.5" r="1.2" fill="none" stroke="#5050ee" stroke-width="0.7" stroke-opacity="1.0"/><circle cx="169.0" cy="78.0" r="1.2" fill="none" stroke="#5050ee" stroke-width="0.7" stroke-opacity="1.0"/><circle cx="172.1" cy="92.0" r="1.2" fill="none" stroke="#5050ee" stroke-width="0.7" stroke-opacity="1.0"/><circle cx="175.2" cy="88.0" r="1.2" fill="none" stroke="#5050ee" stroke-width="0.7" stroke-opacity="1.0"/><circle cx="178.3" cy="95.0" r="1.2" fill="none" stroke="#5050ee" stroke-width="0.7" stroke-opacity="1.0"/><circle cx="181.5" cy="90.0" r="1.2" fill="none" stroke="#5050ee" stroke-width="0.7" stroke-opacity="1.0"/><circle cx="184.6" cy="80.0" r="1.2" fill="none" stroke="#5050ee" stroke-width="0.7" stroke-opacity="1.0"/><circle cx="187.7" cy="84.0" r="1.2" fill="none" stroke="#5050ee" stroke-width="0.7" stroke-opacity="1.0"/><circle cx="190.8" cy="76.0" r="1.2" fill="none" stroke="#5050ee" stroke-width="0.7" stroke-opacity="1.0"/><circle cx="193.9" cy="84.0" r="1.2" fill="none" stroke="#5050ee" stroke-width="0.7" stroke-opacity="1.0"/><circle cx="197.0" cy="88.0" r="1.2" fill="none" stroke="#5050ee" stroke-width="0.7" stroke-opacity="1.0"/><circle cx="200.2" cy="104.0" r="1.2" fill="none" stroke="#5050ee" stroke-width="0.7" stroke-opacity="1.0"/><circle cx="203.3" cy="86.0" r="1.2" fill="none" stroke="#5050ee" stroke-width="0.7" stroke-opacity="1.0"/><circle cx="206.4" cy="86.0" r="1.2" fill="none" stroke="#5050ee" stroke-width="0.7" stroke-opacity="1.0"/><circle cx="209.5" cy="71.0" r="1.2" fill="none" stroke="#5050ee" stroke-width="0.7" stroke-opacity="1.0"/><circle cx="212.6" cy="99.0" r="1.2" fill="none" stroke="#5050ee" stroke-width="0.7" stroke-opacity="1.0"/><circle cx="215.8" cy="96.0" r="1.2" fill="none" stroke="#5050ee" stroke-width="0.7" stroke-opacity="1.0"/><circle cx="218.9" cy="64.0" r="1.2" fill="none" stroke="#5050ee" stroke-width="0.7" stroke-opacity="1.0"/><circle cx="222.0" cy="110.0" r="1.2" fill="none" stroke="#5050ee" stroke-width="0.7" stroke-opacity="1.0"/><circle cx="225.1" cy="90.0" r="1.2" fill="none" stroke="#5050ee" stroke-width="0.7" stroke-opacity="1.0"/><circle cx="228.2" cy="84.0" r="1.2" fill="none" stroke="#5050ee" stroke-width="0.7" stroke-opacity="1.0"/><circle cx="231.3" cy="73.0" r="1.2" fill="none" stroke="#5050ee" stroke-width="0.7" stroke-opacity="1.0"/><circle cx="234.5" cy="98.0" r="1.2" fill="none" stroke="#5050ee" stroke-width="0.7" stroke-opacity="1.0"/><circle cx="237.6" cy="103.0" r="1.2" fill="none" stroke="#5050ee" stroke-width="0.7" stroke-opacity="1.0"/><circle cx="240.7" cy="88.0" r="1.2" fill="none" stroke="#5050ee" stroke-width="0.7" stroke-opacity="1.0"/>
<path d="M38.0,133.9 C41.3,133.4 51.0,132.2 58.0,130.8 C65.0,129.5 73.3,127.4 80.0,125.8 C86.7,124.2 92.7,122.5 98.0,121.1 C103.3,119.7 107.8,118.6 112.0,117.4 C116.2,116.2 119.3,114.9 123.0,113.8 C126.7,112.7 129.5,112.0 134.0,110.9 C138.5,109.8 144.5,108.0 150.0,107.0 C155.5,106.0 160.5,105.7 167.0,104.9 C173.5,104.1 182.7,102.9 189.0,102.2 C195.3,101.5 200.7,101.0 205.0,100.5 C209.3,100.0 209.2,100.2 215.0,99.4 C220.8,98.7 235.8,96.6 240.0,96.0" fill="none" stroke="#000" stroke-width="2.0" stroke-linecap="round"/>
<path d="M38.0,125.0 C42.3,123.1 56.3,117.2 64.0,113.7 C71.7,110.2 77.3,107.6 84.0,104.2 C90.7,100.8 97.3,96.4 104.0,93.4 C110.7,90.4 117.3,88.2 124.0,86.3 C130.7,84.3 136.8,82.7 144.0,81.7 C151.2,80.8 156.8,80.5 167.0,80.6 C177.2,80.6 192.8,81.5 205.0,82.0 C217.2,82.5 234.2,83.2 240.0,83.5" fill="none" stroke="#12b5ea" stroke-width="2.0" stroke-linecap="round"/>
<path d="M38.0,108.4 C41.3,107.8 52.0,105.8 58.0,104.5 C64.0,103.2 68.0,102.3 74.0,100.6 C80.0,98.9 87.3,96.3 94.0,94.2 C100.7,92.1 107.3,90.1 114.0,88.1 C120.7,86.1 129.0,83.7 134.0,82.3 C139.0,80.9 140.7,80.4 144.0,79.7 C147.3,79.0 150.2,78.6 154.0,78.3 C157.8,78.0 161.2,78.0 167.0,77.9 C172.8,77.8 182.7,77.9 189.0,77.9 C195.3,77.9 196.5,77.8 205.0,78.0 C213.5,78.2 234.2,79.0 240.0,79.2" fill="none" stroke="#f0188c" stroke-width="2.0" stroke-linecap="round"/>
<path d="M38.0,103.5 C41.3,103.2 52.0,102.2 58.0,101.6 C64.0,100.9 68.0,100.5 74.0,99.6 C80.0,98.7 87.3,97.4 94.0,96.0 C100.7,94.6 107.3,92.9 114.0,91.4 C120.7,89.9 127.3,88.0 134.0,86.8 C140.7,85.5 148.5,84.4 154.0,83.9 C159.5,83.4 161.2,83.7 167.0,83.7 C172.8,83.7 183.5,83.9 189.0,84.1 C194.5,84.3 194.8,84.6 200.0,85.0 C205.2,85.4 213.3,86.0 220.0,86.5 C226.7,87.0 236.7,87.8 240.0,88.0" fill="none" stroke="#1010f0" stroke-width="2.0" stroke-linecap="round"/>
<line x1="59.5" y1="185.5" x2="59.5" y2="189.0" stroke="#828282" stroke-width="1"/>
<text transform="translate(59.90,198.80) scale(1,1.09)" font-size="5.9" text-anchor="middle" font-weight="normal" font-style="normal" fill="#333" stroke="#333" stroke-width="0.05" font-family="'Liberation Sans', sans-serif">1960</text>
<line x1="91.5" y1="185.5" x2="91.5" y2="189.0" stroke="#828282" stroke-width="1"/>
<text transform="translate(91.07,198.80) scale(1,1.09)" font-size="5.9" text-anchor="middle" font-weight="normal" font-style="normal" fill="#333" stroke="#333" stroke-width="0.05" font-family="'Liberation Sans', sans-serif">1970</text>
<line x1="122.5" y1="185.5" x2="122.5" y2="189.0" stroke="#828282" stroke-width="1"/>
<text transform="translate(122.24,198.80) scale(1,1.09)" font-size="5.9" text-anchor="middle" font-weight="normal" font-style="normal" fill="#333" stroke="#333" stroke-width="0.05" font-family="'Liberation Sans', sans-serif">1980</text>
<line x1="153.5" y1="185.5" x2="153.5" y2="189.0" stroke="#828282" stroke-width="1"/>
<text transform="translate(153.41,198.80) scale(1,1.09)" font-size="5.9" text-anchor="middle" font-weight="normal" font-style="normal" fill="#333" stroke="#333" stroke-width="0.05" font-family="'Liberation Sans', sans-serif">1990</text>
<line x1="184.5" y1="185.5" x2="184.5" y2="189.0" stroke="#828282" stroke-width="1"/>
<text transform="translate(184.58,198.80) scale(1,1.09)" font-size="5.9" text-anchor="middle" font-weight="normal" font-style="normal" fill="#333" stroke="#333" stroke-width="0.05" font-family="'Liberation Sans', sans-serif">2000</text>
<line x1="215.5" y1="185.5" x2="215.5" y2="189.0" stroke="#828282" stroke-width="1"/>
<text transform="translate(215.75,198.80) scale(1,1.09)" font-size="5.9" text-anchor="middle" font-weight="normal" font-style="normal" fill="#333" stroke="#333" stroke-width="0.05" font-family="'Liberation Sans', sans-serif">2010</text>
<line x1="246.5" y1="185.5" x2="246.5" y2="189.0" stroke="#828282" stroke-width="1"/>
<text transform="translate(246.92,198.80) scale(1,1.09)" font-size="5.9" text-anchor="middle" font-weight="normal" font-style="normal" fill="#333" stroke="#333" stroke-width="0.05" font-family="'Liberation Sans', sans-serif">2020</text>
<line x1="26.5" y1="30.5" x2="29.5" y2="30.5" stroke="#828282" stroke-width="1"/>
<text transform="translate(21.90,30.50) rotate(-90) scale(1,1.09)" font-size="5.9" text-anchor="middle" font-weight="normal" font-style="normal" fill="#3a3a3a" font-family="'Liberation Sans', sans-serif">5.0</text>
<line x1="26.5" y1="77.5" x2="29.5" y2="77.5" stroke="#828282" stroke-width="1"/>
<text transform="translate(21.90,77.06) rotate(-90) scale(1,1.09)" font-size="5.9" text-anchor="middle" font-weight="normal" font-style="normal" fill="#3a3a3a" font-family="'Liberation Sans', sans-serif">4.5</text>
<line x1="26.5" y1="123.5" x2="29.5" y2="123.5" stroke="#828282" stroke-width="1"/>
<text transform="translate(21.90,123.63) rotate(-90) scale(1,1.09)" font-size="5.9" text-anchor="middle" font-weight="normal" font-style="normal" fill="#3a3a3a" font-family="'Liberation Sans', sans-serif">4.0</text>
<line x1="26.5" y1="170.5" x2="29.5" y2="170.5" stroke="#828282" stroke-width="1"/>
<text transform="translate(21.90,170.19) rotate(-90) scale(1,1.09)" font-size="5.9" text-anchor="middle" font-weight="normal" font-style="normal" fill="#3a3a3a" font-family="'Liberation Sans', sans-serif">3.5</text>
<text transform="translate(9.60,104.30) rotate(-90) scale(1,1.0)" font-size="5.86" text-anchor="middle" font-weight="bold" font-style="normal" fill="#111" stroke="#111" stroke-width="0.12" font-family="'Liberation Sans', sans-serif">AMM Occurence Time (h LST)</text>
<text transform="translate(139.30,207.80) scale(1,1.04)" font-size="5.85" text-anchor="middle" font-weight="bold" font-style="normal" fill="#111" stroke="#111" stroke-width="0.25" font-family="'Liberation Sans', sans-serif">Time (years)</text>
<text transform="translate(139.10,216.40) scale(1,1.02)" font-size="7.4" text-anchor="middle" font-weight="bold" font-style="italic" fill="#7a7a7a" stroke="#7a7a7a" stroke-width="0.12" font-family="'Liberation Sans', sans-serif">Praries Climate Region (1953-2018)</text>
<text x="44.0" y="11.7" font-size="9.07" font-weight="bold" fill="#111" stroke="#111" stroke-width="0.15" font-family="'Liberation Sans', sans-serif">AFTER MIDNIGHT MINIMA TIMING (COW<tspan font-size="5" dy="1.9" dx="0.3" letter-spacing="0.55">N–D</tspan><tspan dy="-1.9" dx="0.1">)</tspan></text>
<rect x="47" y="166" width="121.5" height="18.5" fill="#fff"/>
<line x1="49.0" y1="169.1" x2="60.0" y2="169.1" stroke="#000" stroke-width="1.3"/>
<text transform="translate(65.00,172.05) scale(1,1.09)" font-size="5.95" text-anchor="start" font-weight="normal" font-style="normal" fill="#333" stroke="#333" stroke-width="0.05" font-family="'Liberation Sans', sans-serif">Calgary (AB)</text>
<line x1="49.0" y1="176.6" x2="60.0" y2="176.6" stroke="#20bff0" stroke-width="1.3"/>
<text transform="translate(65.00,179.55) scale(1,1.09)" font-size="5.95" text-anchor="start" font-weight="normal" font-style="normal" fill="#333" stroke="#333" stroke-width="0.05" font-family="'Liberation Sans', sans-serif">Saskatoon (SK)</text>
<line x1="111.6" y1="169.1" x2="122.6" y2="169.1" stroke="#f0189a" stroke-width="1.3"/>
<text transform="translate(127.60,172.05) scale(1,1.09)" font-size="5.95" text-anchor="start" font-weight="normal" font-style="normal" fill="#333" stroke="#333" stroke-width="0.05" font-family="'Liberation Sans', sans-serif">Estevan (SK)</text>
<line x1="111.6" y1="176.6" x2="122.6" y2="176.6" stroke="#1515f0" stroke-width="1.3"/>
<text transform="translate(127.60,179.55) scale(1,1.09)" font-size="5.95" text-anchor="start" font-weight="normal" font-style="normal" fill="#333" stroke="#333" stroke-width="0.05" font-family="'Liberation Sans', sans-serif">Winnipeg (MB)</text>
<rect x="29.5" y="24.5" width="219.0" height="161.0" fill="none" stroke="#828282" stroke-width="1"/>
<text transform="translate(132.6,238.8) scale(0.92,1)" font-size="11.8" text-anchor="middle" fill="#111" stroke="#111" stroke-width="0.12" font-family="'Liberation Serif', serif">(<tspan font-weight="bold">a</tspan>)</text>
<line x1="354.5" y1="24.5" x2="354.5" y2="184.5" stroke="#f2f2f2" stroke-width="1"/>
<line x1="385.5" y1="24.5" x2="385.5" y2="184.5" stroke="#f2f2f2" stroke-width="1"/>
<line x1="416.5" y1="24.5" x2="416.5" y2="184.5" stroke="#f2f2f2" stroke-width="1"/>
<line x1="447.5" y1="24.5" x2="447.5" y2="184.5" stroke="#f2f2f2" stroke-width="1"/>
<line x1="478.5" y1="24.5" x2="478.5" y2="184.5" stroke="#f2f2f2" stroke-width="1"/>
<line x1="509.5" y1="24.5" x2="509.5" y2="184.5" stroke="#f2f2f2" stroke-width="1"/>
<line x1="540.5" y1="24.5" x2="540.5" y2="184.5" stroke="#f2f2f2" stroke-width="1"/>
<line x1="324.5" y1="55.5" x2="542.5" y2="55.5" stroke="#f2f2f2" stroke-width="1"/>
<line x1="324.5" y1="91.5" x2="542.5" y2="91.5" stroke="#f2f2f2" stroke-width="1"/>
<line x1="324.5" y1="128.5" x2="542.5" y2="128.5" stroke="#f2f2f2" stroke-width="1"/>
<line x1="324.5" y1="164.5" x2="542.5" y2="164.5" stroke="#f2f2f2" stroke-width="1"/>
<polyline points="332.8,146.0 335.9,138.0 339.0,138.0 342.1,153.6 345.2,127.0 348.3,120.0 351.4,118.0 354.5,112.0 357.6,103.0 360.7,110.0 363.8,102.0 366.9,108.0 370.0,110.0 373.1,109.0 376.2,109.0 379.3,106.0 382.4,110.0 385.5,116.0 388.6,107.0 391.7,104.0 394.8,108.0 397.9,114.0 401.0,120.0 404.1,109.0 407.2,95.0 410.3,105.0 413.4,93.0 416.5,98.0 419.6,100.0 422.7,102.0 425.8,94.0 428.9,99.0 431.9,92.0 435.0,90.0 438.1,94.0 441.2,85.0 444.3,93.0 447.4,85.0 450.5,104.0 453.6,97.0 456.7,92.4 459.8,94.0 462.9,95.0 466.0,105.0 469.1,110.0 472.2,112.0 475.3,109.0 478.4,105.0 481.5,103.0 484.6,98.0 487.7,103.0 490.8,108.0 493.9,105.0 497.0,113.0 500.1,98.0 503.2,104.0 506.3,99.0 509.4,90.0 512.5,97.0 515.6,99.0 518.7,108.0 521.8,101.0 524.9,97.0 528.0,99.0 531.1,95.0 534.2,105.0" fill="none" stroke="#686868" stroke-width="0.95" stroke-opacity="1.0" stroke-linejoin="round"/><circle cx="332.8" cy="146.0" r="1.2" fill="none" stroke="#686868" stroke-width="0.7" stroke-opacity="1.0"/><circle cx="335.9" cy="138.0" r="1.2" fill="none" stroke="#686868" stroke-width="0.7" stroke-opacity="1.0"/><circle cx="339.0" cy="138.0" r="1.2" fill="none" stroke="#686868" stroke-width="0.7" stroke-opacity="1.0"/><circle cx="342.1" cy="153.6" r="1.2" fill="none" stroke="#686868" stroke-width="0.7" stroke-opacity="1.0"/><circle cx="345.2" cy="127.0" r="1.2" fill="none" stroke="#686868" stroke-width="0.7" stroke-opacity="1.0"/><circle cx="348.3" cy="120.0" r="1.2" fill="none" stroke="#686868" stroke-width="0.7" stroke-opacity="1.0"/><circle cx="351.4" cy="118.0" r="1.2" fill="none" stroke="#686868" stroke-width="0.7" stroke-opacity="1.0"/><circle cx="354.5" cy="112.0" r="1.2" fill="none" stroke="#686868" stroke-width="0.7" stroke-opacity="1.0"/><circle cx="357.6" cy="103.0" r="1.2" fill="none" stroke="#686868" stroke-width="0.7" stroke-opacity="1.0"/><circle cx="360.7" cy="110.0" r="1.2" fill="none" stroke="#686868" stroke-width="0.7" stroke-opacity="1.0"/><circle cx="363.8" cy="102.0" r="1.2" fill="none" stroke="#686868" stroke-width="0.7" stroke-opacity="1.0"/><circle cx="366.9" cy="108.0" r="1.2" fill="none" stroke="#686868" stroke-width="0.7" stroke-opacity="1.0"/><circle cx="370.0" cy="110.0" r="1.2" fill="none" stroke="#686868" stroke-width="0.7" stroke-opacity="1.0"/><circle cx="373.1" cy="109.0" r="1.2" fill="none" stroke="#686868" stroke-width="0.7" stroke-opacity="1.0"/><circle cx="376.2" cy="109.0" r="1.2" fill="none" stroke="#686868" stroke-width="0.7" stroke-opacity="1.0"/><circle cx="379.3" cy="106.0" r="1.2" fill="none" stroke="#686868" stroke-width="0.7" stroke-opacity="1.0"/><circle cx="382.4" cy="110.0" r="1.2" fill="none" stroke="#686868" stroke-width="0.7" stroke-opacity="1.0"/><circle cx="385.5" cy="116.0" r="1.2" fill="none" stroke="#686868" stroke-width="0.7" stroke-opacity="1.0"/><circle cx="388.6" cy="107.0" r="1.2" fill="none" stroke="#686868" stroke-width="0.7" stroke-opacity="1.0"/><circle cx="391.7" cy="104.0" r="1.2" fill="none" stroke="#686868" stroke-width="0.7" stroke-opacity="1.0"/><circle cx="394.8" cy="108.0" r="1.2" fill="none" stroke="#686868" stroke-width="0.7" stroke-opacity="1.0"/><circle cx="397.9" cy="114.0" r="1.2" fill="none" stroke="#686868" stroke-width="0.7" stroke-opacity="1.0"/><circle cx="401.0" cy="120.0" r="1.2" fill="none" stroke="#686868" stroke-width="0.7" stroke-opacity="1.0"/><circle cx="404.1" cy="109.0" r="1.2" fill="none" stroke="#686868" stroke-width="0.7" stroke-opacity="1.0"/><circle cx="407.2" cy="95.0" r="1.2" fill="none" stroke="#686868" stroke-width="0.7" stroke-opacity="1.0"/><circle cx="410.3" cy="105.0" r="1.2" fill="none" stroke="#686868" stroke-width="0.7" stroke-opacity="1.0"/><circle cx="413.4" cy="93.0" r="1.2" fill="none" stroke="#686868" stroke-width="0.7" stroke-opacity="1.0"/><circle cx="416.5" cy="98.0" r="1.2" fill="none" stroke="#686868" stroke-width="0.7" stroke-opacity="1.0"/><circle cx="419.6" cy="100.0" r="1.2" fill="none" stroke="#686868" stroke-width="0.7" stroke-opacity="1.0"/><circle cx="422.7" cy="102.0" r="1.2" fill="none" stroke="#686868" stroke-width="0.7" stroke-opacity="1.0"/><circle cx="425.8" cy="94.0" r="1.2" fill="none" stroke="#686868" stroke-width="0.7" stroke-opacity="1.0"/><circle cx="428.9" cy="99.0" r="1.2" fill="none" stroke="#686868" stroke-width="0.7" stroke-opacity="1.0"/><circle cx="431.9" cy="92.0" r="1.2" fill="none" stroke="#686868" stroke-width="0.7" stroke-opacity="1.0"/><circle cx="435.0" cy="90.0" r="1.2" fill="none" stroke="#686868" stroke-width="0.7" stroke-opacity="1.0"/><circle cx="438.1" cy="94.0" r="1.2" fill="none" stroke="#686868" stroke-width="0.7" stroke-opacity="1.0"/><circle cx="441.2" cy="85.0" r="1.2" fill="none" stroke="#686868" stroke-width="0.7" stroke-opacity="1.0"/><circle cx="444.3" cy="93.0" r="1.2" fill="none" stroke="#686868" stroke-width="0.7" stroke-opacity="1.0"/><circle cx="447.4" cy="85.0" r="1.2" fill="none" stroke="#686868" stroke-width="0.7" stroke-opacity="1.0"/><circle cx="450.5" cy="104.0" r="1.2" fill="none" stroke="#686868" stroke-width="0.7" stroke-opacity="1.0"/><circle cx="453.6" cy="97.0" r="1.2" fill="none" stroke="#686868" stroke-width="0.7" stroke-opacity="1.0"/><circle cx="456.7" cy="92.4" r="1.2" fill="none" stroke="#686868" stroke-width="0.7" stroke-opacity="1.0"/><circle cx="459.8" cy="94.0" r="1.2" fill="none" stroke="#686868" stroke-width="0.7" stroke-opacity="1.0"/><circle cx="462.9" cy="95.0" r="1.2" fill="none" stroke="#686868" stroke-width="0.7" stroke-opacity="1.0"/><circle cx="466.0" cy="105.0" r="1.2" fill="none" stroke="#686868" stroke-width="0.7" stroke-opacity="1.0"/><circle cx="469.1" cy="110.0" r="1.2" fill="none" stroke="#686868" stroke-width="0.7" stroke-opacity="1.0"/><circle cx="472.2" cy="112.0" r="1.2" fill="none" stroke="#686868" stroke-width="0.7" stroke-opacity="1.0"/><circle cx="475.3" cy="109.0" r="1.2" fill="none" stroke="#686868" stroke-width="0.7" stroke-opacity="1.0"/><circle cx="478.4" cy="105.0" r="1.2" fill="none" stroke="#686868" stroke-width="0.7" stroke-opacity="1.0"/><circle cx="481.5" cy="103.0" r="1.2" fill="none" stroke="#686868" stroke-width="0.7" stroke-opacity="1.0"/><circle cx="484.6" cy="98.0" r="1.2" fill="none" stroke="#686868" stroke-width="0.7" stroke-opacity="1.0"/><circle cx="487.7" cy="103.0" r="1.2" fill="none" stroke="#686868" stroke-width="0.7" stroke-opacity="1.0"/><circle cx="490.8" cy="108.0" r="1.2" fill="none" stroke="#686868" stroke-width="0.7" stroke-opacity="1.0"/><circle cx="493.9" cy="105.0" r="1.2" fill="none" stroke="#686868" stroke-width="0.7" stroke-opacity="1.0"/><circle cx="497.0" cy="113.0" r="1.2" fill="none" stroke="#686868" stroke-width="0.7" stroke-opacity="1.0"/><circle cx="500.1" cy="98.0" r="1.2" fill="none" stroke="#686868" stroke-width="0.7" stroke-opacity="1.0"/><circle cx="503.2" cy="104.0" r="1.2" fill="none" stroke="#686868" stroke-width="0.7" stroke-opacity="1.0"/><circle cx="506.3" cy="99.0" r="1.2" fill="none" stroke="#686868" stroke-width="0.7" stroke-opacity="1.0"/><circle cx="509.4" cy="90.0" r="1.2" fill="none" stroke="#686868" stroke-width="0.7" stroke-opacity="1.0"/><circle cx="512.5" cy="97.0" r="1.2" fill="none" stroke="#686868" stroke-width="0.7" stroke-opacity="1.0"/><circle cx="515.6" cy="99.0" r="1.2" fill="none" stroke="#686868" stroke-width="0.7" stroke-opacity="1.0"/><circle cx="518.7" cy="108.0" r="1.2" fill="none" stroke="#686868" stroke-width="0.7" stroke-opacity="1.0"/><circle cx="521.8" cy="101.0" r="1.2" fill="none" stroke="#686868" stroke-width="0.7" stroke-opacity="1.0"/><circle cx="524.9" cy="97.0" r="1.2" fill="none" stroke="#686868" stroke-width="0.7" stroke-opacity="1.0"/><circle cx="528.0" cy="99.0" r="1.2" fill="none" stroke="#686868" stroke-width="0.7" stroke-opacity="1.0"/><circle cx="531.1" cy="95.0" r="1.2" fill="none" stroke="#686868" stroke-width="0.7" stroke-opacity="1.0"/><circle cx="534.2" cy="105.0" r="1.2" fill="none" stroke="#686868" stroke-width="0.7" stroke-opacity="1.0"/>
<polyline points="332.8,148.0 335.9,142.0 339.0,139.0 342.1,147.0 345.2,122.0 348.3,117.0 351.4,115.0 354.5,121.0 357.6,110.0 360.7,116.0 363.8,120.0 366.9,121.0 370.0,129.0 373.1,130.0 376.2,133.0 379.3,130.0 382.4,122.0 385.5,121.0 388.6,117.0 391.7,123.0 394.8,123.0 397.9,60.0 401.0,62.0 404.1,58.5 407.2,38.5 410.3,35.5 413.4,46.5 416.5,35.2 419.6,42.0 422.7,27.5 425.8,37.0 428.9,39.0 431.9,33.5 435.0,41.0 438.1,38.0 441.2,43.0 444.3,35.0 447.4,40.0 450.5,36.0 453.6,48.0 456.7,44.0 459.8,50.0 462.9,54.0 466.0,40.0 469.1,41.0 472.2,48.0 475.3,56.5 478.4,50.0 481.5,53.0 484.6,53.5 487.7,43.0 490.8,50.0 493.9,51.0 497.0,43.0 500.1,44.0 503.2,53.0 506.3,41.0 509.4,50.0 512.5,58.5 515.6,48.0 518.7,50.0 521.8,58.0 524.9,55.0 528.0,60.0 531.1,55.0 534.2,44.0" fill="none" stroke="#f26262" stroke-width="0.95" stroke-opacity="1.0" stroke-linejoin="round"/><circle cx="332.8" cy="148.0" r="1.2" fill="none" stroke="#f26262" stroke-width="0.7" stroke-opacity="1.0"/><circle cx="335.9" cy="142.0" r="1.2" fill="none" stroke="#f26262" stroke-width="0.7" stroke-opacity="1.0"/><circle cx="339.0" cy="139.0" r="1.2" fill="none" stroke="#f26262" stroke-width="0.7" stroke-opacity="1.0"/><circle cx="342.1" cy="147.0" r="1.2" fill="none" stroke="#f26262" stroke-width="0.7" stroke-opacity="1.0"/><circle cx="345.2" cy="122.0" r="1.2" fill="none" stroke="#f26262" stroke-width="0.7" stroke-opacity="1.0"/><circle cx="348.3" cy="117.0" r="1.2" fill="none" stroke="#f26262" stroke-width="0.7" stroke-opacity="1.0"/><circle cx="351.4" cy="115.0" r="1.2" fill="none" stroke="#f26262" stroke-width="0.7" stroke-opacity="1.0"/><circle cx="354.5" cy="121.0" r="1.2" fill="none" stroke="#f26262" stroke-width="0.7" stroke-opacity="1.0"/><circle cx="357.6" cy="110.0" r="1.2" fill="none" stroke="#f26262" stroke-width="0.7" stroke-opacity="1.0"/><circle cx="360.7" cy="116.0" r="1.2" fill="none" stroke="#f26262" stroke-width="0.7" stroke-opacity="1.0"/><circle cx="363.8" cy="120.0" r="1.2" fill="none" stroke="#f26262" stroke-width="0.7" stroke-opacity="1.0"/><circle cx="366.9" cy="121.0" r="1.2" fill="none" stroke="#f26262" stroke-width="0.7" stroke-opacity="1.0"/><circle cx="370.0" cy="129.0" r="1.2" fill="none" stroke="#f26262" stroke-width="0.7" stroke-opacity="1.0"/><circle cx="373.1" cy="130.0" r="1.2" fill="none" stroke="#f26262" stroke-width="0.7" stroke-opacity="1.0"/><circle cx="376.2" cy="133.0" r="1.2" fill="none" stroke="#f26262" stroke-width="0.7" stroke-opacity="1.0"/><circle cx="379.3" cy="130.0" r="1.2" fill="none" stroke="#f26262" stroke-width="0.7" stroke-opacity="1.0"/><circle cx="382.4" cy="122.0" r="1.2" fill="none" stroke="#f26262" stroke-width="0.7" stroke-opacity="1.0"/><circle cx="385.5" cy="121.0" r="1.2" fill="none" stroke="#f26262" stroke-width="0.7" stroke-opacity="1.0"/><circle cx="388.6" cy="117.0" r="1.2" fill="none" stroke="#f26262" stroke-width="0.7" stroke-opacity="1.0"/><circle cx="391.7" cy="123.0" r="1.2" fill="none" stroke="#f26262" stroke-width="0.7" stroke-opacity="1.0"/><circle cx="394.8" cy="123.0" r="1.2" fill="none" stroke="#f26262" stroke-width="0.7" stroke-opacity="1.0"/><circle cx="397.9" cy="60.0" r="1.2" fill="none" stroke="#f26262" stroke-width="0.7" stroke-opacity="1.0"/><circle cx="401.0" cy="62.0" r="1.2" fill="none" stroke="#f26262" stroke-width="0.7" stroke-opacity="1.0"/><circle cx="404.1" cy="58.5" r="1.2" fill="none" stroke="#f26262" stroke-width="0.7" stroke-opacity="1.0"/><circle cx="407.2" cy="38.5" r="1.2" fill="none" stroke="#f26262" stroke-width="0.7" stroke-opacity="1.0"/><circle cx="410.3" cy="35.5" r="1.2" fill="none" stroke="#f26262" stroke-width="0.7" stroke-opacity="1.0"/><circle cx="413.4" cy="46.5" r="1.2" fill="none" stroke="#f26262" stroke-width="0.7" stroke-opacity="1.0"/><circle cx="416.5" cy="35.2" r="1.2" fill="none" stroke="#f26262" stroke-width="0.7" stroke-opacity="1.0"/><circle cx="419.6" cy="42.0" r="1.2" fill="none" stroke="#f26262" stroke-width="0.7" stroke-opacity="1.0"/><circle cx="422.7" cy="27.5" r="1.2" fill="none" stroke="#f26262" stroke-width="0.7" stroke-opacity="1.0"/><circle cx="425.8" cy="37.0" r="1.2" fill="none" stroke="#f26262" stroke-width="0.7" stroke-opacity="1.0"/><circle cx="428.9" cy="39.0" r="1.2" fill="none" stroke="#f26262" stroke-width="0.7" stroke-opacity="1.0"/><circle cx="431.9" cy="33.5" r="1.2" fill="none" stroke="#f26262" stroke-width="0.7" stroke-opacity="1.0"/><circle cx="435.0" cy="41.0" r="1.2" fill="none" stroke="#f26262" stroke-width="0.7" stroke-opacity="1.0"/><circle cx="438.1" cy="38.0" r="1.2" fill="none" stroke="#f26262" stroke-width="0.7" stroke-opacity="1.0"/><circle cx="441.2" cy="43.0" r="1.2" fill="none" stroke="#f26262" stroke-width="0.7" stroke-opacity="1.0"/><circle cx="444.3" cy="35.0" r="1.2" fill="none" stroke="#f26262" stroke-width="0.7" stroke-opacity="1.0"/><circle cx="447.4" cy="40.0" r="1.2" fill="none" stroke="#f26262" stroke-width="0.7" stroke-opacity="1.0"/><circle cx="450.5" cy="36.0" r="1.2" fill="none" stroke="#f26262" stroke-width="0.7" stroke-opacity="1.0"/><circle cx="453.6" cy="48.0" r="1.2" fill="none" stroke="#f26262" stroke-width="0.7" stroke-opacity="1.0"/><circle cx="456.7" cy="44.0" r="1.2" fill="none" stroke="#f26262" stroke-width="0.7" stroke-opacity="1.0"/><circle cx="459.8" cy="50.0" r="1.2" fill="none" stroke="#f26262" stroke-width="0.7" stroke-opacity="1.0"/><circle cx="462.9" cy="54.0" r="1.2" fill="none" stroke="#f26262" stroke-width="0.7" stroke-opacity="1.0"/><circle cx="466.0" cy="40.0" r="1.2" fill="none" stroke="#f26262" stroke-width="0.7" stroke-opacity="1.0"/><circle cx="469.1" cy="41.0" r="1.2" fill="none" stroke="#f26262" stroke-width="0.7" stroke-opacity="1.0"/><circle cx="472.2" cy="48.0" r="1.2" fill="none" stroke="#f26262" stroke-width="0.7" stroke-opacity="1.0"/><circle cx="475.3" cy="56.5" r="1.2" fill="none" stroke="#f26262" stroke-width="0.7" stroke-opacity="1.0"/><circle cx="478.4" cy="50.0" r="1.2" fill="none" stroke="#f26262" stroke-width="0.7" stroke-opacity="1.0"/><circle cx="481.5" cy="53.0" r="1.2" fill="none" stroke="#f26262" stroke-width="0.7" stroke-opacity="1.0"/><circle cx="484.6" cy="53.5" r="1.2" fill="none" stroke="#f26262" stroke-width="0.7" stroke-opacity="1.0"/><circle cx="487.7" cy="43.0" r="1.2" fill="none" stroke="#f26262" stroke-width="0.7" stroke-opacity="1.0"/><circle cx="490.8" cy="50.0" r="1.2" fill="none" stroke="#f26262" stroke-width="0.7" stroke-opacity="1.0"/><circle cx="493.9" cy="51.0" r="1.2" fill="none" stroke="#f26262" stroke-width="0.7" stroke-opacity="1.0"/><circle cx="497.0" cy="43.0" r="1.2" fill="none" stroke="#f26262" stroke-width="0.7" stroke-opacity="1.0"/><circle cx="500.1" cy="44.0" r="1.2" fill="none" stroke="#f26262" stroke-width="0.7" stroke-opacity="1.0"/><circle cx="503.2" cy="53.0" r="1.2" fill="none" stroke="#f26262" stroke-width="0.7" stroke-opacity="1.0"/><circle cx="506.3" cy="41.0" r="1.2" fill="none" stroke="#f26262" stroke-width="0.7" stroke-opacity="1.0"/><circle cx="509.4" cy="50.0" r="1.2" fill="none" stroke="#f26262" stroke-width="0.7" stroke-opacity="1.0"/><circle cx="512.5" cy="58.5" r="1.2" fill="none" stroke="#f26262" stroke-width="0.7" stroke-opacity="1.0"/><circle cx="515.6" cy="48.0" r="1.2" fill="none" stroke="#f26262" stroke-width="0.7" stroke-opacity="1.0"/><circle cx="518.7" cy="50.0" r="1.2" fill="none" stroke="#f26262" stroke-width="0.7" stroke-opacity="1.0"/><circle cx="521.8" cy="58.0" r="1.2" fill="none" stroke="#f26262" stroke-width="0.7" stroke-opacity="1.0"/><circle cx="524.9" cy="55.0" r="1.2" fill="none" stroke="#f26262" stroke-width="0.7" stroke-opacity="1.0"/><circle cx="528.0" cy="60.0" r="1.2" fill="none" stroke="#f26262" stroke-width="0.7" stroke-opacity="1.0"/><circle cx="531.1" cy="55.0" r="1.2" fill="none" stroke="#f26262" stroke-width="0.7" stroke-opacity="1.0"/><circle cx="534.2" cy="44.0" r="1.2" fill="none" stroke="#f26262" stroke-width="0.7" stroke-opacity="1.0"/>
<polyline points="332.8,122.0 335.9,118.0 339.0,124.0 342.1,119.0 345.2,114.0 348.3,100.0 351.4,101.0 354.5,94.0 357.6,93.0 360.7,98.0 363.8,98.0 366.9,97.0 370.0,96.0 373.1,106.0 376.2,108.0 379.3,104.0 382.4,107.0 385.5,108.0 388.6,101.0 391.7,101.0 394.8,102.0 397.9,108.0 401.0,112.0 404.1,108.0 407.2,92.0 410.3,78.0 413.4,86.0 416.5,74.0 419.6,81.0 422.7,80.0 425.8,84.0 428.9,88.0 431.9,85.0 435.0,84.0 438.1,82.0 441.2,83.0 444.3,77.0 447.4,78.0 450.5,72.0 453.6,81.0 456.7,78.0 459.8,82.0 462.9,87.0 466.0,94.0 469.1,91.0 472.2,102.0 475.3,96.0 478.4,95.0 481.5,90.0 484.6,91.0 487.7,91.0 490.8,81.0 493.9,81.0 497.0,91.0 500.1,77.6 503.2,85.0 506.3,92.0 509.4,87.0 512.5,93.0 515.6,85.0 518.7,92.0 521.8,84.0 524.9,82.0 528.0,89.0 531.1,87.0 534.2,77.6" fill="none" stroke="#a452d2" stroke-width="0.95" stroke-opacity="1.0" stroke-linejoin="round"/><circle cx="332.8" cy="122.0" r="1.2" fill="none" stroke="#a452d2" stroke-width="0.7" stroke-opacity="1.0"/><circle cx="335.9" cy="118.0" r="1.2" fill="none" stroke="#a452d2" stroke-width="0.7" stroke-opacity="1.0"/><circle cx="339.0" cy="124.0" r="1.2" fill="none" stroke="#a452d2" stroke-width="0.7" stroke-opacity="1.0"/><circle cx="342.1" cy="119.0" r="1.2" fill="none" stroke="#a452d2" stroke-width="0.7" stroke-opacity="1.0"/><circle cx="345.2" cy="114.0" r="1.2" fill="none" stroke="#a452d2" stroke-width="0.7" stroke-opacity="1.0"/><circle cx="348.3" cy="100.0" r="1.2" fill="none" stroke="#a452d2" stroke-width="0.7" stroke-opacity="1.0"/><circle cx="351.4" cy="101.0" r="1.2" fill="none" stroke="#a452d2" stroke-width="0.7" stroke-opacity="1.0"/><circle cx="354.5" cy="94.0" r="1.2" fill="none" stroke="#a452d2" stroke-width="0.7" stroke-opacity="1.0"/><circle cx="357.6" cy="93.0" r="1.2" fill="none" stroke="#a452d2" stroke-width="0.7" stroke-opacity="1.0"/><circle cx="360.7" cy="98.0" r="1.2" fill="none" stroke="#a452d2" stroke-width="0.7" stroke-opacity="1.0"/><circle cx="363.8" cy="98.0" r="1.2" fill="none" stroke="#a452d2" stroke-width="0.7" stroke-opacity="1.0"/><circle cx="366.9" cy="97.0" r="1.2" fill="none" stroke="#a452d2" stroke-width="0.7" stroke-opacity="1.0"/><circle cx="370.0" cy="96.0" r="1.2" fill="none" stroke="#a452d2" stroke-width="0.7" stroke-opacity="1.0"/><circle cx="373.1" cy="106.0" r="1.2" fill="none" stroke="#a452d2" stroke-width="0.7" stroke-opacity="1.0"/><circle cx="376.2" cy="108.0" r="1.2" fill="none" stroke="#a452d2" stroke-width="0.7" stroke-opacity="1.0"/><circle cx="379.3" cy="104.0" r="1.2" fill="none" stroke="#a452d2" stroke-width="0.7" stroke-opacity="1.0"/><circle cx="382.4" cy="107.0" r="1.2" fill="none" stroke="#a452d2" stroke-width="0.7" stroke-opacity="1.0"/><circle cx="385.5" cy="108.0" r="1.2" fill="none" stroke="#a452d2" stroke-width="0.7" stroke-opacity="1.0"/><circle cx="388.6" cy="101.0" r="1.2" fill="none" stroke="#a452d2" stroke-width="0.7" stroke-opacity="1.0"/><circle cx="391.7" cy="101.0" r="1.2" fill="none" stroke="#a452d2" stroke-width="0.7" stroke-opacity="1.0"/><circle cx="394.8" cy="102.0" r="1.2" fill="none" stroke="#a452d2" stroke-width="0.7" stroke-opacity="1.0"/><circle cx="397.9" cy="108.0" r="1.2" fill="none" stroke="#a452d2" stroke-width="0.7" stroke-opacity="1.0"/><circle cx="401.0" cy="112.0" r="1.2" fill="none" stroke="#a452d2" stroke-width="0.7" stroke-opacity="1.0"/><circle cx="404.1" cy="108.0" r="1.2" fill="none" stroke="#a452d2" stroke-width="0.7" stroke-opacity="1.0"/><circle cx="407.2" cy="92.0" r="1.2" fill="none" stroke="#a452d2" stroke-width="0.7" stroke-opacity="1.0"/><circle cx="410.3" cy="78.0" r="1.2" fill="none" stroke="#a452d2" stroke-width="0.7" stroke-opacity="1.0"/><circle cx="413.4" cy="86.0" r="1.2" fill="none" stroke="#a452d2" stroke-width="0.7" stroke-opacity="1.0"/><circle cx="416.5" cy="74.0" r="1.2" fill="none" stroke="#a452d2" stroke-width="0.7" stroke-opacity="1.0"/><circle cx="419.6" cy="81.0" r="1.2" fill="none" stroke="#a452d2" stroke-width="0.7" stroke-opacity="1.0"/><circle cx="422.7" cy="80.0" r="1.2" fill="none" stroke="#a452d2" stroke-width="0.7" stroke-opacity="1.0"/><circle cx="425.8" cy="84.0" r="1.2" fill="none" stroke="#a452d2" stroke-width="0.7" stroke-opacity="1.0"/><circle cx="428.9" cy="88.0" r="1.2" fill="none" stroke="#a452d2" stroke-width="0.7" stroke-opacity="1.0"/><circle cx="431.9" cy="85.0" r="1.2" fill="none" stroke="#a452d2" stroke-width="0.7" stroke-opacity="1.0"/><circle cx="435.0" cy="84.0" r="1.2" fill="none" stroke="#a452d2" stroke-width="0.7" stroke-opacity="1.0"/><circle cx="438.1" cy="82.0" r="1.2" fill="none" stroke="#a452d2" stroke-width="0.7" stroke-opacity="1.0"/><circle cx="441.2" cy="83.0" r="1.2" fill="none" stroke="#a452d2" stroke-width="0.7" stroke-opacity="1.0"/><circle cx="444.3" cy="77.0" r="1.2" fill="none" stroke="#a452d2" stroke-width="0.7" stroke-opacity="1.0"/><circle cx="447.4" cy="78.0" r="1.2" fill="none" stroke="#a452d2" stroke-width="0.7" stroke-opacity="1.0"/><circle cx="450.5" cy="72.0" r="1.2" fill="none" stroke="#a452d2" stroke-width="0.7" stroke-opacity="1.0"/><circle cx="453.6" cy="81.0" r="1.2" fill="none" stroke="#a452d2" stroke-width="0.7" stroke-opacity="1.0"/><circle cx="456.7" cy="78.0" r="1.2" fill="none" stroke="#a452d2" stroke-width="0.7" stroke-opacity="1.0"/><circle cx="459.8" cy="82.0" r="1.2" fill="none" stroke="#a452d2" stroke-width="0.7" stroke-opacity="1.0"/><circle cx="462.9" cy="87.0" r="1.2" fill="none" stroke="#a452d2" stroke-width="0.7" stroke-opacity="1.0"/><circle cx="466.0" cy="94.0" r="1.2" fill="none" stroke="#a452d2" stroke-width="0.7" stroke-opacity="1.0"/><circle cx="469.1" cy="91.0" r="1.2" fill="none" stroke="#a452d2" stroke-width="0.7" stroke-opacity="1.0"/><circle cx="472.2" cy="102.0" r="1.2" fill="none" stroke="#a452d2" stroke-width="0.7" stroke-opacity="1.0"/><circle cx="475.3" cy="96.0" r="1.2" fill="none" stroke="#a452d2" stroke-width="0.7" stroke-opacity="1.0"/><circle cx="478.4" cy="95.0" r="1.2" fill="none" stroke="#a452d2" stroke-width="0.7" stroke-opacity="1.0"/><circle cx="481.5" cy="90.0" r="1.2" fill="none" stroke="#a452d2" stroke-width="0.7" stroke-opacity="1.0"/><circle cx="484.6" cy="91.0" r="1.2" fill="none" stroke="#a452d2" stroke-width="0.7" stroke-opacity="1.0"/><circle cx="487.7" cy="91.0" r="1.2" fill="none" stroke="#a452d2" stroke-width="0.7" stroke-opacity="1.0"/><circle cx="490.8" cy="81.0" r="1.2" fill="none" stroke="#a452d2" stroke-width="0.7" stroke-opacity="1.0"/><circle cx="493.9" cy="81.0" r="1.2" fill="none" stroke="#a452d2" stroke-width="0.7" stroke-opacity="1.0"/><circle cx="497.0" cy="91.0" r="1.2" fill="none" stroke="#a452d2" stroke-width="0.7" stroke-opacity="1.0"/><circle cx="500.1" cy="77.6" r="1.2" fill="none" stroke="#a452d2" stroke-width="0.7" stroke-opacity="1.0"/><circle cx="503.2" cy="85.0" r="1.2" fill="none" stroke="#a452d2" stroke-width="0.7" stroke-opacity="1.0"/><circle cx="506.3" cy="92.0" r="1.2" fill="none" stroke="#a452d2" stroke-width="0.7" stroke-opacity="1.0"/><circle cx="509.4" cy="87.0" r="1.2" fill="none" stroke="#a452d2" stroke-width="0.7" stroke-opacity="1.0"/><circle cx="512.5" cy="93.0" r="1.2" fill="none" stroke="#a452d2" stroke-width="0.7" stroke-opacity="1.0"/><circle cx="515.6" cy="85.0" r="1.2" fill="none" stroke="#a452d2" stroke-width="0.7" stroke-opacity="1.0"/><circle cx="518.7" cy="92.0" r="1.2" fill="none" stroke="#a452d2" stroke-width="0.7" stroke-opacity="1.0"/><circle cx="521.8" cy="84.0" r="1.2" fill="none" stroke="#a452d2" stroke-width="0.7" stroke-opacity="1.0"/><circle cx="524.9" cy="82.0" r="1.2" fill="none" stroke="#a452d2" stroke-width="0.7" stroke-opacity="1.0"/><circle cx="528.0" cy="89.0" r="1.2" fill="none" stroke="#a452d2" stroke-width="0.7" stroke-opacity="1.0"/><circle cx="531.1" cy="87.0" r="1.2" fill="none" stroke="#a452d2" stroke-width="0.7" stroke-opacity="1.0"/><circle cx="534.2" cy="77.6" r="1.2" fill="none" stroke="#a452d2" stroke-width="0.7" stroke-opacity="1.0"/>
<polyline points="332.8,100.0 335.9,110.0 339.0,95.0 342.1,103.0 345.2,90.0 348.3,68.0 351.4,71.0 354.5,81.0 357.6,73.0 360.7,86.0 363.8,74.0 366.9,71.6 370.0,78.0 373.1,87.0 376.2,74.0 379.3,72.0 382.4,76.0 385.5,81.0 388.6,77.0 391.7,70.0 394.8,72.0 397.9,75.0 401.0,73.0 404.1,68.0 407.2,47.0 410.3,45.0 413.4,48.0 416.5,54.0 419.6,62.0 422.7,56.0 425.8,66.0 428.9,61.0 431.9,55.5 435.0,59.5 438.1,66.0 441.2,51.0 444.3,57.5 447.4,50.5 450.5,59.5 453.6,76.0 456.7,70.0 459.8,56.0 462.9,64.0 466.0,70.0 469.1,60.5 472.2,58.0 475.3,60.0 478.4,64.0 481.5,62.5 484.6,68.0 487.7,65.0 490.8,60.0 493.9,60.5 497.0,59.0 500.1,62.5 503.2,67.5 506.3,71.5 509.4,75.0 512.5,55.0 515.6,58.0 518.7,68.0 521.8,72.0 524.9,69.5 528.0,74.0 531.1,63.0 534.2,60.0" fill="none" stroke="#8cd852" stroke-width="0.95" stroke-opacity="1.0" stroke-linejoin="round"/><circle cx="332.8" cy="100.0" r="1.2" fill="none" stroke="#8cd852" stroke-width="0.7" stroke-opacity="1.0"/><circle cx="335.9" cy="110.0" r="1.2" fill="none" stroke="#8cd852" stroke-width="0.7" stroke-opacity="1.0"/><circle cx="339.0" cy="95.0" r="1.2" fill="none" stroke="#8cd852" stroke-width="0.7" stroke-opacity="1.0"/><circle cx="342.1" cy="103.0" r="1.2" fill="none" stroke="#8cd852" stroke-width="0.7" stroke-opacity="1.0"/><circle cx="345.2" cy="90.0" r="1.2" fill="none" stroke="#8cd852" stroke-width="0.7" stroke-opacity="1.0"/><circle cx="348.3" cy="68.0" r="1.2" fill="none" stroke="#8cd852" stroke-width="0.7" stroke-opacity="1.0"/><circle cx="351.4" cy="71.0" r="1.2" fill="none" stroke="#8cd852" stroke-width="0.7" stroke-opacity="1.0"/><circle cx="354.5" cy="81.0" r="1.2" fill="none" stroke="#8cd852" stroke-width="0.7" stroke-opacity="1.0"/><circle cx="357.6" cy="73.0" r="1.2" fill="none" stroke="#8cd852" stroke-width="0.7" stroke-opacity="1.0"/><circle cx="360.7" cy="86.0" r="1.2" fill="none" stroke="#8cd852" stroke-width="0.7" stroke-opacity="1.0"/><circle cx="363.8" cy="74.0" r="1.2" fill="none" stroke="#8cd852" stroke-width="0.7" stroke-opacity="1.0"/><circle cx="366.9" cy="71.6" r="1.2" fill="none" stroke="#8cd852" stroke-width="0.7" stroke-opacity="1.0"/><circle cx="370.0" cy="78.0" r="1.2" fill="none" stroke="#8cd852" stroke-width="0.7" stroke-opacity="1.0"/><circle cx="373.1" cy="87.0" r="1.2" fill="none" stroke="#8cd852" stroke-width="0.7" stroke-opacity="1.0"/><circle cx="376.2" cy="74.0" r="1.2" fill="none" stroke="#8cd852" stroke-width="0.7" stroke-opacity="1.0"/><circle cx="379.3" cy="72.0" r="1.2" fill="none" stroke="#8cd852" stroke-width="0.7" stroke-opacity="1.0"/><circle cx="382.4" cy="76.0" r="1.2" fill="none" stroke="#8cd852" stroke-width="0.7" stroke-opacity="1.0"/><circle cx="385.5" cy="81.0" r="1.2" fill="none" stroke="#8cd852" stroke-width="0.7" stroke-opacity="1.0"/><circle cx="388.6" cy="77.0" r="1.2" fill="none" stroke="#8cd852" stroke-width="0.7" stroke-opacity="1.0"/><circle cx="391.7" cy="70.0" r="1.2" fill="none" stroke="#8cd852" stroke-width="0.7" stroke-opacity="1.0"/><circle cx="394.8" cy="72.0" r="1.2" fill="none" stroke="#8cd852" stroke-width="0.7" stroke-opacity="1.0"/><circle cx="397.9" cy="75.0" r="1.2" fill="none" stroke="#8cd852" stroke-width="0.7" stroke-opacity="1.0"/><circle cx="401.0" cy="73.0" r="1.2" fill="none" stroke="#8cd852" stroke-width="0.7" stroke-opacity="1.0"/><circle cx="404.1" cy="68.0" r="1.2" fill="none" stroke="#8cd852" stroke-width="0.7" stroke-opacity="1.0"/><circle cx="407.2" cy="47.0" r="1.2" fill="none" stroke="#8cd852" stroke-width="0.7" stroke-opacity="1.0"/><circle cx="410.3" cy="45.0" r="1.2" fill="none" stroke="#8cd852" stroke-width="0.7" stroke-opacity="1.0"/><circle cx="413.4" cy="48.0" r="1.2" fill="none" stroke="#8cd852" stroke-width="0.7" stroke-opacity="1.0"/><circle cx="416.5" cy="54.0" r="1.2" fill="none" stroke="#8cd852" stroke-width="0.7" stroke-opacity="1.0"/><circle cx="419.6" cy="62.0" r="1.2" fill="none" stroke="#8cd852" stroke-width="0.7" stroke-opacity="1.0"/><circle cx="422.7" cy="56.0" r="1.2" fill="none" stroke="#8cd852" stroke-width="0.7" stroke-opacity="1.0"/><circle cx="425.8" cy="66.0" r="1.2" fill="none" stroke="#8cd852" stroke-width="0.7" stroke-opacity="1.0"/><circle cx="428.9" cy="61.0" r="1.2" fill="none" stroke="#8cd852" stroke-width="0.7" stroke-opacity="1.0"/><circle cx="431.9" cy="55.5" r="1.2" fill="none" stroke="#8cd852" stroke-width="0.7" stroke-opacity="1.0"/><circle cx="435.0" cy="59.5" r="1.2" fill="none" stroke="#8cd852" stroke-width="0.7" stroke-opacity="1.0"/><circle cx="438.1" cy="66.0" r="1.2" fill="none" stroke="#8cd852" stroke-width="0.7" stroke-opacity="1.0"/><circle cx="441.2" cy="51.0" r="1.2" fill="none" stroke="#8cd852" stroke-width="0.7" stroke-opacity="1.0"/><circle cx="444.3" cy="57.5" r="1.2" fill="none" stroke="#8cd852" stroke-width="0.7" stroke-opacity="1.0"/><circle cx="447.4" cy="50.5" r="1.2" fill="none" stroke="#8cd852" stroke-width="0.7" stroke-opacity="1.0"/><circle cx="450.5" cy="59.5" r="1.2" fill="none" stroke="#8cd852" stroke-width="0.7" stroke-opacity="1.0"/><circle cx="453.6" cy="76.0" r="1.2" fill="none" stroke="#8cd852" stroke-width="0.7" stroke-opacity="1.0"/><circle cx="456.7" cy="70.0" r="1.2" fill="none" stroke="#8cd852" stroke-width="0.7" stroke-opacity="1.0"/><circle cx="459.8" cy="56.0" r="1.2" fill="none" stroke="#8cd852" stroke-width="0.7" stroke-opacity="1.0"/><circle cx="462.9" cy="64.0" r="1.2" fill="none" stroke="#8cd852" stroke-width="0.7" stroke-opacity="1.0"/><circle cx="466.0" cy="70.0" r="1.2" fill="none" stroke="#8cd852" stroke-width="0.7" stroke-opacity="1.0"/><circle cx="469.1" cy="60.5" r="1.2" fill="none" stroke="#8cd852" stroke-width="0.7" stroke-opacity="1.0"/><circle cx="472.2" cy="58.0" r="1.2" fill="none" stroke="#8cd852" stroke-width="0.7" stroke-opacity="1.0"/><circle cx="475.3" cy="60.0" r="1.2" fill="none" stroke="#8cd852" stroke-width="0.7" stroke-opacity="1.0"/><circle cx="478.4" cy="64.0" r="1.2" fill="none" stroke="#8cd852" stroke-width="0.7" stroke-opacity="1.0"/><circle cx="481.5" cy="62.5" r="1.2" fill="none" stroke="#8cd852" stroke-width="0.7" stroke-opacity="1.0"/><circle cx="484.6" cy="68.0" r="1.2" fill="none" stroke="#8cd852" stroke-width="0.7" stroke-opacity="1.0"/><circle cx="487.7" cy="65.0" r="1.2" fill="none" stroke="#8cd852" stroke-width="0.7" stroke-opacity="1.0"/><circle cx="490.8" cy="60.0" r="1.2" fill="none" stroke="#8cd852" stroke-width="0.7" stroke-opacity="1.0"/><circle cx="493.9" cy="60.5" r="1.2" fill="none" stroke="#8cd852" stroke-width="0.7" stroke-opacity="1.0"/><circle cx="497.0" cy="59.0" r="1.2" fill="none" stroke="#8cd852" stroke-width="0.7" stroke-opacity="1.0"/><circle cx="500.1" cy="62.5" r="1.2" fill="none" stroke="#8cd852" stroke-width="0.7" stroke-opacity="1.0"/><circle cx="503.2" cy="67.5" r="1.2" fill="none" stroke="#8cd852" stroke-width="0.7" stroke-opacity="1.0"/><circle cx="506.3" cy="71.5" r="1.2" fill="none" stroke="#8cd852" stroke-width="0.7" stroke-opacity="1.0"/><circle cx="509.4" cy="75.0" r="1.2" fill="none" stroke="#8cd852" stroke-width="0.7" stroke-opacity="1.0"/><circle cx="512.5" cy="55.0" r="1.2" fill="none" stroke="#8cd852" stroke-width="0.7" stroke-opacity="1.0"/><circle cx="515.6" cy="58.0" r="1.2" fill="none" stroke="#8cd852" stroke-width="0.7" stroke-opacity="1.0"/><circle cx="518.7" cy="68.0" r="1.2" fill="none" stroke="#8cd852" stroke-width="0.7" stroke-opacity="1.0"/><circle cx="521.8" cy="72.0" r="1.2" fill="none" stroke="#8cd852" stroke-width="0.7" stroke-opacity="1.0"/><circle cx="524.9" cy="69.5" r="1.2" fill="none" stroke="#8cd852" stroke-width="0.7" stroke-opacity="1.0"/><circle cx="528.0" cy="74.0" r="1.2" fill="none" stroke="#8cd852" stroke-width="0.7" stroke-opacity="1.0"/><circle cx="531.1" cy="63.0" r="1.2" fill="none" stroke="#8cd852" stroke-width="0.7" stroke-opacity="1.0"/><circle cx="534.2" cy="60.0" r="1.2" fill="none" stroke="#8cd852" stroke-width="0.7" stroke-opacity="1.0"/>
<path d="M332.5,130.0 C336.4,128.4 349.4,123.2 356.0,120.5 C362.6,117.8 368.0,115.6 372.0,114.0 C376.0,112.4 377.3,111.9 380.0,111.0 C382.7,110.1 384.7,109.7 388.0,108.7 C391.3,107.7 394.7,106.2 400.0,104.8 C405.3,103.3 414.2,101.0 420.0,100.0 C425.8,99.0 429.2,98.9 435.0,98.7 C440.8,98.5 448.3,98.8 455.0,99.0 C461.7,99.2 469.2,99.7 475.0,100.0 C480.8,100.3 480.2,100.5 490.0,100.8 C499.8,101.1 526.7,101.8 534.0,102.0" fill="none" stroke="#000" stroke-width="2.0" stroke-linecap="round"/>
<path d="M332.0,149.8 C334.0,147.7 340.0,141.5 344.0,137.2 C348.0,132.9 352.5,127.7 356.0,123.8 C359.5,119.9 362.0,116.9 365.0,113.6 C368.0,110.2 369.8,108.3 374.0,103.7 C378.2,99.1 386.3,90.1 390.0,86.2 C393.7,82.3 393.5,82.7 396.0,80.2 C398.5,77.7 402.3,74.1 405.0,71.4 C407.7,68.8 409.7,66.7 412.0,64.3 C414.3,61.9 416.7,59.1 419.0,56.9 C421.3,54.7 423.7,52.7 426.0,51.1 C428.3,49.5 430.7,48.1 433.0,47.1 C435.3,46.1 437.7,45.4 440.0,44.9 C442.3,44.4 444.5,44.2 447.0,44.1 C449.5,44.0 450.3,43.6 455.0,44.1 C459.7,44.6 468.3,46.1 475.0,47.0 C481.7,47.9 488.3,48.5 495.0,49.2 C501.7,49.9 508.5,50.6 515.0,51.4 C521.5,52.2 530.8,53.6 534.0,54.0" fill="none" stroke="#f01818" stroke-width="2.0" stroke-linecap="round"/>
<path d="M332.4,115.3 C335.3,114.6 343.5,112.6 350.0,110.9 C356.5,109.2 366.2,106.4 371.6,104.9 C377.0,103.5 378.1,103.6 382.5,102.2 C386.9,100.8 392.6,98.7 398.0,96.7 C403.4,94.8 409.7,92.0 415.0,90.5 C420.3,89.0 425.0,88.7 430.0,88.0 C435.0,87.3 440.0,86.8 445.0,86.6 C450.0,86.4 451.7,86.4 460.0,86.6 C468.3,86.8 482.7,87.2 495.0,87.6 C507.3,88.0 527.5,88.6 534.0,88.8" fill="none" stroke="#9010b0" stroke-width="2.0" stroke-linecap="round"/>
<path d="M332.5,94.5 C336.4,92.9 349.8,87.3 356.0,85.0 C362.2,82.7 365.8,81.9 370.0,80.5 C374.2,79.1 377.7,77.8 381.0,76.7 C384.3,75.6 385.2,75.4 390.0,73.8 C394.8,72.2 404.0,68.8 410.0,67.0 C416.0,65.2 419.8,64.3 426.0,63.3 C432.2,62.3 440.5,61.5 447.0,61.2 C453.5,60.9 459.5,61.1 465.0,61.3 C470.5,61.5 475.8,62.1 480.0,62.5 C484.2,62.9 481.0,63.0 490.0,63.8 C499.0,64.6 526.7,66.9 534.0,67.5" fill="none" stroke="#60cc10" stroke-width="2.0" stroke-linecap="round"/>
<line x1="354.5" y1="184.5" x2="354.5" y2="188.7" stroke="#828282" stroke-width="1"/>
<text transform="translate(354.50,198.80) scale(1,1.09)" font-size="5.9" text-anchor="middle" font-weight="normal" font-style="normal" fill="#333" stroke="#333" stroke-width="0.05" font-family="'Liberation Sans', sans-serif">1960</text>
<line x1="385.5" y1="184.5" x2="385.5" y2="188.7" stroke="#828282" stroke-width="1"/>
<text transform="translate(385.48,198.80) scale(1,1.09)" font-size="5.9" text-anchor="middle" font-weight="normal" font-style="normal" fill="#333" stroke="#333" stroke-width="0.05" font-family="'Liberation Sans', sans-serif">1970</text>
<line x1="416.5" y1="184.5" x2="416.5" y2="188.7" stroke="#828282" stroke-width="1"/>
<text transform="translate(416.46,198.80) scale(1,1.09)" font-size="5.9" text-anchor="middle" font-weight="normal" font-style="normal" fill="#333" stroke="#333" stroke-width="0.05" font-family="'Liberation Sans', sans-serif">1980</text>
<line x1="447.5" y1="184.5" x2="447.5" y2="188.7" stroke="#828282" stroke-width="1"/>
<text transform="translate(447.44,198.80) scale(1,1.09)" font-size="5.9" text-anchor="middle" font-weight="normal" font-style="normal" fill="#333" stroke="#333" stroke-width="0.05" font-family="'Liberation Sans', sans-serif">1990</text>
<line x1="478.5" y1="184.5" x2="478.5" y2="188.7" stroke="#828282" stroke-width="1"/>
<text transform="translate(478.42,198.80) scale(1,1.09)" font-size="5.9" text-anchor="middle" font-weight="normal" font-style="normal" fill="#333" stroke="#333" stroke-width="0.05" font-family="'Liberation Sans', sans-serif">2000</text>
<line x1="509.5" y1="184.5" x2="509.5" y2="188.7" stroke="#828282" stroke-width="1"/>
<text transform="translate(509.40,198.80) scale(1,1.09)" font-size="5.9" text-anchor="middle" font-weight="normal" font-style="normal" fill="#333" stroke="#333" stroke-width="0.05" font-family="'Liberation Sans', sans-serif">2010</text>
<line x1="540.5" y1="184.5" x2="540.5" y2="188.7" stroke="#828282" stroke-width="1"/>
<text transform="translate(540.38,198.80) scale(1,1.09)" font-size="5.9" text-anchor="middle" font-weight="normal" font-style="normal" fill="#333" stroke="#333" stroke-width="0.05" font-family="'Liberation Sans', sans-serif">2020</text>
<line x1="321.5" y1="55.5" x2="324.5" y2="55.5" stroke="#828282" stroke-width="1"/>
<text transform="translate(316.40,55.60) rotate(-90) scale(1,1.09)" font-size="5.9" text-anchor="middle" font-weight="normal" font-style="normal" fill="#3a3a3a" font-family="'Liberation Sans', sans-serif">15.5</text>
<line x1="321.5" y1="91.5" x2="324.5" y2="91.5" stroke="#828282" stroke-width="1"/>
<text transform="translate(316.40,91.90) rotate(-90) scale(1,1.09)" font-size="5.9" text-anchor="middle" font-weight="normal" font-style="normal" fill="#3a3a3a" font-family="'Liberation Sans', sans-serif">15.0</text>
<line x1="321.5" y1="128.5" x2="324.5" y2="128.5" stroke="#828282" stroke-width="1"/>
<text transform="translate(316.40,128.20) rotate(-90) scale(1,1.09)" font-size="5.9" text-anchor="middle" font-weight="normal" font-style="normal" fill="#3a3a3a" font-family="'Liberation Sans', sans-serif">14.5</text>
<line x1="321.5" y1="164.5" x2="324.5" y2="164.5" stroke="#828282" stroke-width="1"/>
<text transform="translate(316.40,164.50) rotate(-90) scale(1,1.09)" font-size="5.9" text-anchor="middle" font-weight="normal" font-style="normal" fill="#3a3a3a" font-family="'Liberation Sans', sans-serif">14.0</text>
<text transform="translate(304.10,103.60) rotate(-90) scale(1,1.0)" font-size="5.86" text-anchor="middle" font-weight="bold" font-style="normal" fill="#111" stroke="#111" stroke-width="0.12" font-family="'Liberation Sans', sans-serif">ANM Occurence Time (h LST)</text>
<text transform="translate(433.80,207.40) scale(1,1.04)" font-size="5.85" text-anchor="middle" font-weight="bold" font-style="normal" fill="#111" stroke="#111" stroke-width="0.25" font-family="'Liberation Sans', sans-serif">Time (years)</text>
<text transform="translate(433.50,215.40) scale(1,1.02)" font-size="7.4" text-anchor="middle" font-weight="bold" font-style="italic" fill="#7a7a7a" stroke="#7a7a7a" stroke-width="0.12" font-family="'Liberation Sans', sans-serif">Prairies Climate Region (1953-2018)</text>
<text x="346.2" y="11.7" font-size="9.0" font-weight="bold" fill="#111" stroke="#111" stroke-width="0.15" font-family="'Liberation Sans', sans-serif">AFTER NOON MAXIMA TIMING (COW<tspan font-size="5" dy="1.9" dx="0.3" letter-spacing="0.55">N–D</tspan><tspan dy="-1.9" dx="0.1">)</tspan></text>
<rect x="341" y="165" width="123" height="19.5" fill="#fff"/>
<line x1="343.0" y1="168.9" x2="354.0" y2="168.9" stroke="#222" stroke-width="1.3"/>
<text transform="translate(359.00,171.85) scale(1,1.09)" font-size="5.95" text-anchor="start" font-weight="normal" font-style="normal" fill="#333" stroke="#333" stroke-width="0.05" font-family="'Liberation Sans', sans-serif">Calgary (AB)</text>
<line x1="343.0" y1="176.4" x2="354.0" y2="176.4" stroke="#f05050" stroke-width="1.3"/>
<text transform="translate(359.00,179.35) scale(1,1.09)" font-size="5.95" text-anchor="start" font-weight="normal" font-style="normal" fill="#333" stroke="#333" stroke-width="0.05" font-family="'Liberation Sans', sans-serif">Saskatoon (SK)</text>
<line x1="405.6" y1="168.9" x2="416.6" y2="168.9" stroke="#a030c0" stroke-width="1.3"/>
<text transform="translate(421.60,171.85) scale(1,1.09)" font-size="5.95" text-anchor="start" font-weight="normal" font-style="normal" fill="#333" stroke="#333" stroke-width="0.05" font-family="'Liberation Sans', sans-serif">Estevan (SK)</text>
<line x1="405.6" y1="176.4" x2="416.6" y2="176.4" stroke="#70d030" stroke-width="1.3"/>
<text transform="translate(421.60,179.35) scale(1,1.09)" font-size="5.95" text-anchor="start" font-weight="normal" font-style="normal" fill="#333" stroke="#333" stroke-width="0.05" font-family="'Liberation Sans', sans-serif">Winnipeg (MB)</text>
<rect x="324.5" y="24.5" width="218.0" height="160.0" fill="none" stroke="#828282" stroke-width="1"/>
<text transform="translate(426.6,238.8) scale(0.92,1)" font-size="11.8" text-anchor="middle" fill="#111" stroke="#111" stroke-width="0.12" font-family="'Liberation Serif', serif">(<tspan font-weight="bold">b</tspan>)</text>
</svg>
</body></html>
